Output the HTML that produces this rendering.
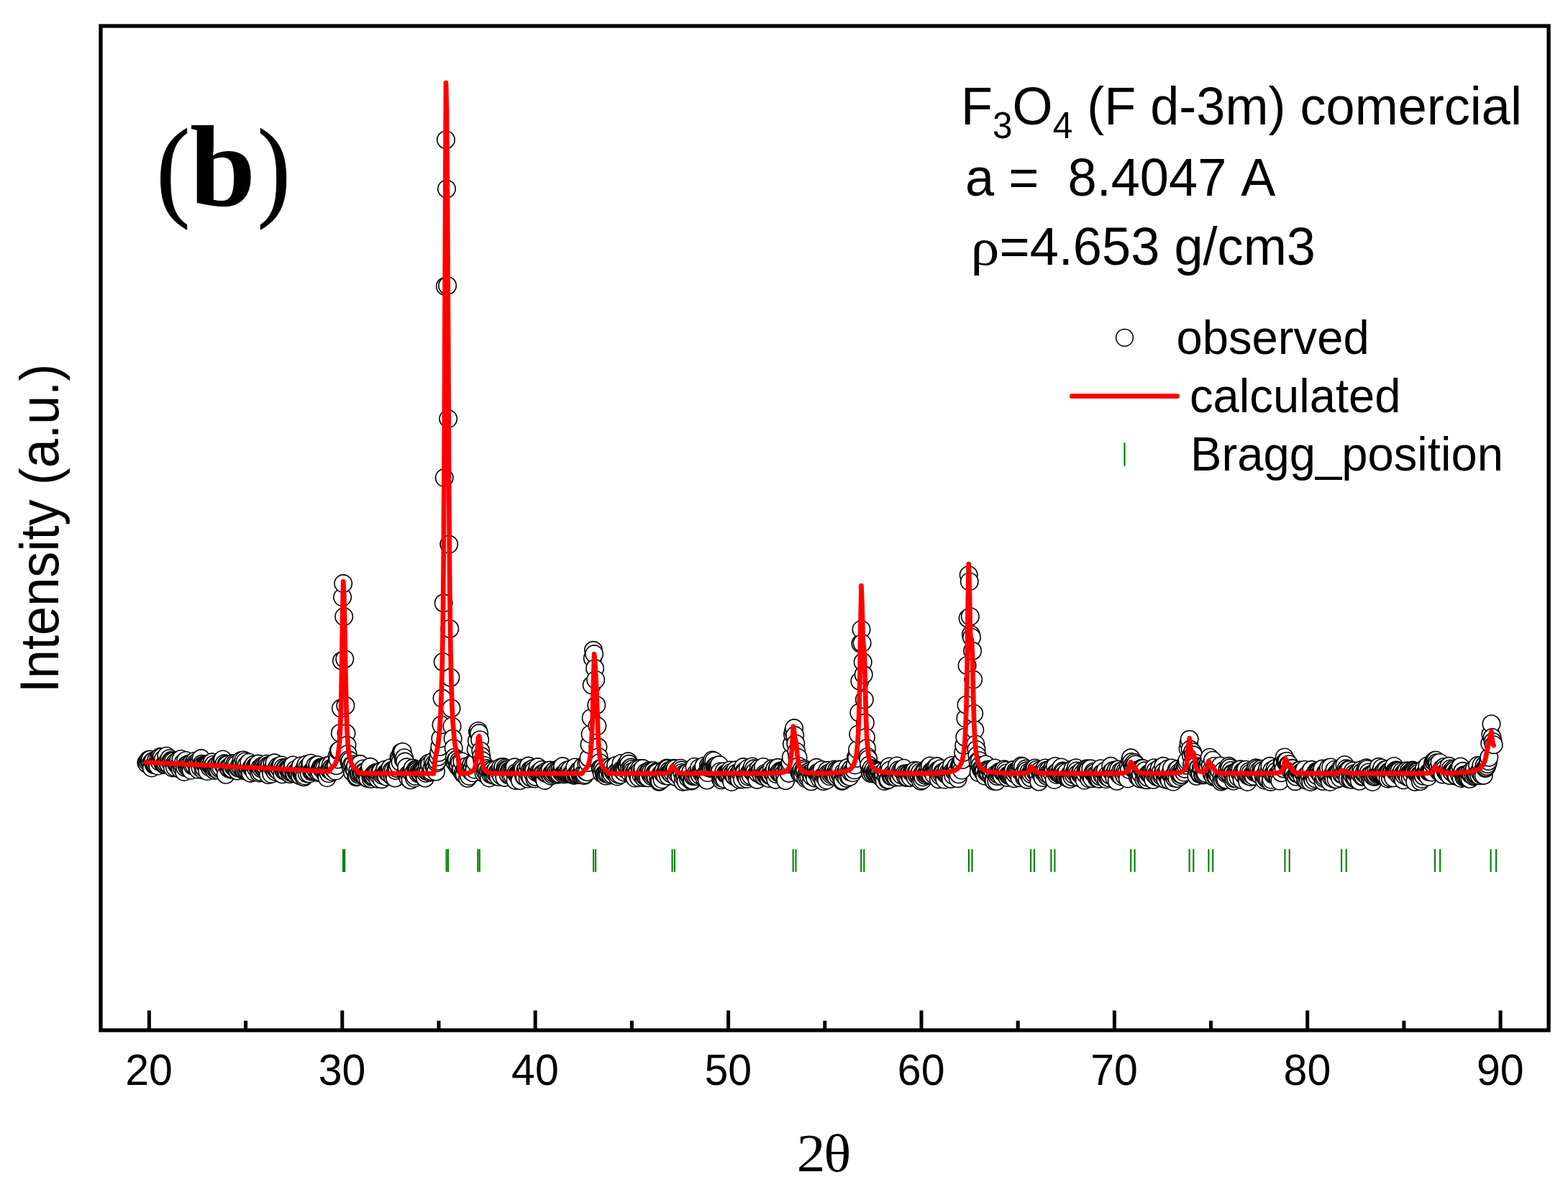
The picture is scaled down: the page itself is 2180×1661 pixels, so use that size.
<!DOCTYPE html>
<html lang="en"><head><meta charset="utf-8"><title>XRD Rietveld refinement (b)</title>
<style>
html,body{margin:0;padding:0;background:#fff;overflow:hidden;}
svg{display:block;}
text{font-family:"Liberation Sans",sans-serif;fill:#000;font-kerning:none;}
.serif{font-family:"Liberation Serif",serif;}
</style></head>
<body>
<svg width="2180" height="1661" viewBox="0 0 2180 1661">
<rect width="2180" height="1661" fill="#fff"/>
<g id="observed" fill="#fff" stroke="#000" stroke-width="1.6"><circle cx="203.4" cy="1060.3" r="12.2"/><circle cx="204.5" cy="1061.8" r="12.2"/><circle cx="205.6" cy="1059.0" r="12.2"/><circle cx="206.6" cy="1056.0" r="12.2"/><circle cx="207.7" cy="1058.2" r="12.2"/><circle cx="208.8" cy="1055.6" r="12.2"/><circle cx="209.9" cy="1060.9" r="12.2"/><circle cx="210.9" cy="1067.4" r="12.2"/><circle cx="212.0" cy="1058.3" r="12.2"/><circle cx="213.1" cy="1057.7" r="12.2"/><circle cx="214.2" cy="1063.3" r="12.2"/><circle cx="215.2" cy="1062.7" r="12.2"/><circle cx="216.3" cy="1061.5" r="12.2"/><circle cx="217.4" cy="1056.3" r="12.2"/><circle cx="218.5" cy="1060.9" r="12.2"/><circle cx="219.5" cy="1064.6" r="12.2"/><circle cx="220.6" cy="1054.4" r="12.2"/><circle cx="221.7" cy="1058.9" r="12.2"/><circle cx="222.7" cy="1051.7" r="12.2"/><circle cx="223.8" cy="1054.9" r="12.2"/><circle cx="224.9" cy="1052.1" r="12.2"/><circle cx="226.0" cy="1060.2" r="12.2"/><circle cx="227.0" cy="1055.1" r="12.2"/><circle cx="228.1" cy="1062.9" r="12.2"/><circle cx="229.2" cy="1062.4" r="12.2"/><circle cx="230.3" cy="1060.7" r="12.2"/><circle cx="231.3" cy="1050.7" r="12.2"/><circle cx="232.4" cy="1059.0" r="12.2"/><circle cx="233.5" cy="1061.5" r="12.2"/><circle cx="234.6" cy="1062.4" r="12.2"/><circle cx="235.6" cy="1054.2" r="12.2"/><circle cx="236.7" cy="1059.6" r="12.2"/><circle cx="237.8" cy="1057.1" r="12.2"/><circle cx="238.9" cy="1058.0" r="12.2"/><circle cx="239.9" cy="1067.4" r="12.2"/><circle cx="241.0" cy="1058.1" r="12.2"/><circle cx="242.1" cy="1062.1" r="12.2"/><circle cx="243.1" cy="1066.7" r="12.2"/><circle cx="244.2" cy="1059.4" r="12.2"/><circle cx="245.3" cy="1061.8" r="12.2"/><circle cx="246.4" cy="1063.0" r="12.2"/><circle cx="247.4" cy="1062.8" r="12.2"/><circle cx="248.5" cy="1056.4" r="12.2"/><circle cx="249.6" cy="1063.0" r="12.2"/><circle cx="250.7" cy="1069.4" r="12.2"/><circle cx="251.7" cy="1055.0" r="12.2"/><circle cx="252.8" cy="1067.1" r="12.2"/><circle cx="253.9" cy="1063.4" r="12.2"/><circle cx="255.0" cy="1059.7" r="12.2"/><circle cx="256.0" cy="1072.9" r="12.2"/><circle cx="257.1" cy="1066.8" r="12.2"/><circle cx="258.2" cy="1057.0" r="12.2"/><circle cx="259.2" cy="1063.4" r="12.2"/><circle cx="260.3" cy="1066.0" r="12.2"/><circle cx="261.4" cy="1062.2" r="12.2"/><circle cx="262.5" cy="1066.7" r="12.2"/><circle cx="263.5" cy="1063.0" r="12.2"/><circle cx="264.6" cy="1066.7" r="12.2"/><circle cx="265.7" cy="1070.6" r="12.2"/><circle cx="266.8" cy="1060.1" r="12.2"/><circle cx="267.8" cy="1064.5" r="12.2"/><circle cx="268.9" cy="1061.2" r="12.2"/><circle cx="270.0" cy="1064.2" r="12.2"/><circle cx="271.1" cy="1057.7" r="12.2"/><circle cx="272.1" cy="1060.8" r="12.2"/><circle cx="273.2" cy="1062.8" r="12.2"/><circle cx="274.3" cy="1068.3" r="12.2"/><circle cx="275.4" cy="1069.6" r="12.2"/><circle cx="276.4" cy="1057.3" r="12.2"/><circle cx="277.5" cy="1060.0" r="12.2"/><circle cx="278.6" cy="1067.3" r="12.2"/><circle cx="279.6" cy="1054.1" r="12.2"/><circle cx="280.7" cy="1061.8" r="12.2"/><circle cx="281.8" cy="1063.7" r="12.2"/><circle cx="282.9" cy="1070.5" r="12.2"/><circle cx="283.9" cy="1067.8" r="12.2"/><circle cx="285.0" cy="1062.7" r="12.2"/><circle cx="286.1" cy="1062.6" r="12.2"/><circle cx="287.2" cy="1063.2" r="12.2"/><circle cx="288.2" cy="1072.1" r="12.2"/><circle cx="289.3" cy="1062.4" r="12.2"/><circle cx="290.4" cy="1063.1" r="12.2"/><circle cx="291.5" cy="1066.4" r="12.2"/><circle cx="292.5" cy="1064.1" r="12.2"/><circle cx="293.6" cy="1063.8" r="12.2"/><circle cx="294.7" cy="1059.3" r="12.2"/><circle cx="295.7" cy="1064.8" r="12.2"/><circle cx="296.8" cy="1062.7" r="12.2"/><circle cx="297.9" cy="1070.8" r="12.2"/><circle cx="299.0" cy="1068.3" r="12.2"/><circle cx="300.0" cy="1065.0" r="12.2"/><circle cx="301.1" cy="1068.5" r="12.2"/><circle cx="302.2" cy="1063.5" r="12.2"/><circle cx="303.3" cy="1070.5" r="12.2"/><circle cx="304.3" cy="1065.3" r="12.2"/><circle cx="305.4" cy="1068.3" r="12.2"/><circle cx="306.5" cy="1059.0" r="12.2"/><circle cx="307.6" cy="1067.2" r="12.2"/><circle cx="308.6" cy="1057.1" r="12.2"/><circle cx="309.7" cy="1055.4" r="12.2"/><circle cx="310.8" cy="1064.1" r="12.2"/><circle cx="311.8" cy="1061.2" r="12.2"/><circle cx="312.9" cy="1066.6" r="12.2"/><circle cx="314.0" cy="1076.8" r="12.2"/><circle cx="315.1" cy="1061.7" r="12.2"/><circle cx="316.1" cy="1062.8" r="12.2"/><circle cx="317.2" cy="1067.0" r="12.2"/><circle cx="318.3" cy="1068.5" r="12.2"/><circle cx="319.4" cy="1065.2" r="12.2"/><circle cx="320.4" cy="1065.1" r="12.2"/><circle cx="321.5" cy="1069.7" r="12.2"/><circle cx="322.6" cy="1068.8" r="12.2"/><circle cx="323.7" cy="1061.1" r="12.2"/><circle cx="324.7" cy="1065.9" r="12.2"/><circle cx="325.8" cy="1066.6" r="12.2"/><circle cx="326.9" cy="1061.2" r="12.2"/><circle cx="328.0" cy="1067.8" r="12.2"/><circle cx="329.0" cy="1062.3" r="12.2"/><circle cx="330.1" cy="1071.5" r="12.2"/><circle cx="331.2" cy="1067.6" r="12.2"/><circle cx="332.2" cy="1067.2" r="12.2"/><circle cx="333.3" cy="1063.8" r="12.2"/><circle cx="334.4" cy="1066.2" r="12.2"/><circle cx="335.5" cy="1056.9" r="12.2"/><circle cx="336.5" cy="1061.3" r="12.2"/><circle cx="337.6" cy="1068.8" r="12.2"/><circle cx="338.7" cy="1056.4" r="12.2"/><circle cx="339.8" cy="1071.3" r="12.2"/><circle cx="340.8" cy="1058.4" r="12.2"/><circle cx="341.9" cy="1071.0" r="12.2"/><circle cx="343.0" cy="1063.0" r="12.2"/><circle cx="344.1" cy="1071.2" r="12.2"/><circle cx="345.1" cy="1068.0" r="12.2"/><circle cx="346.2" cy="1059.7" r="12.2"/><circle cx="347.3" cy="1073.7" r="12.2"/><circle cx="348.3" cy="1074.7" r="12.2"/><circle cx="349.4" cy="1067.2" r="12.2"/><circle cx="350.5" cy="1066.2" r="12.2"/><circle cx="351.6" cy="1066.9" r="12.2"/><circle cx="352.6" cy="1062.8" r="12.2"/><circle cx="353.7" cy="1073.3" r="12.2"/><circle cx="354.8" cy="1065.1" r="12.2"/><circle cx="355.9" cy="1067.6" r="12.2"/><circle cx="356.9" cy="1064.0" r="12.2"/><circle cx="358.0" cy="1064.8" r="12.2"/><circle cx="359.1" cy="1061.6" r="12.2"/><circle cx="360.2" cy="1074.4" r="12.2"/><circle cx="361.2" cy="1067.4" r="12.2"/><circle cx="362.3" cy="1073.0" r="12.2"/><circle cx="363.4" cy="1068.3" r="12.2"/><circle cx="364.5" cy="1064.8" r="12.2"/><circle cx="365.5" cy="1066.7" r="12.2"/><circle cx="366.6" cy="1065.6" r="12.2"/><circle cx="367.7" cy="1068.5" r="12.2"/><circle cx="368.7" cy="1066.6" r="12.2"/><circle cx="369.8" cy="1067.0" r="12.2"/><circle cx="370.9" cy="1061.7" r="12.2"/><circle cx="372.0" cy="1064.6" r="12.2"/><circle cx="373.0" cy="1077.0" r="12.2"/><circle cx="374.1" cy="1065.4" r="12.2"/><circle cx="375.2" cy="1063.5" r="12.2"/><circle cx="376.3" cy="1070.5" r="12.2"/><circle cx="377.3" cy="1075.9" r="12.2"/><circle cx="378.4" cy="1061.7" r="12.2"/><circle cx="379.5" cy="1068.0" r="12.2"/><circle cx="380.6" cy="1065.9" r="12.2"/><circle cx="381.6" cy="1060.3" r="12.2"/><circle cx="382.7" cy="1072.8" r="12.2"/><circle cx="383.8" cy="1069.1" r="12.2"/><circle cx="384.8" cy="1069.6" r="12.2"/><circle cx="385.9" cy="1065.6" r="12.2"/><circle cx="387.0" cy="1071.6" r="12.2"/><circle cx="388.1" cy="1066.7" r="12.2"/><circle cx="389.1" cy="1068.7" r="12.2"/><circle cx="390.2" cy="1064.0" r="12.2"/><circle cx="391.3" cy="1063.5" r="12.2"/><circle cx="392.4" cy="1076.3" r="12.2"/><circle cx="393.4" cy="1067.1" r="12.2"/><circle cx="394.5" cy="1071.2" r="12.2"/><circle cx="395.6" cy="1069.6" r="12.2"/><circle cx="396.7" cy="1067.6" r="12.2"/><circle cx="397.7" cy="1067.3" r="12.2"/><circle cx="398.8" cy="1073.1" r="12.2"/><circle cx="399.9" cy="1068.5" r="12.2"/><circle cx="401.0" cy="1069.3" r="12.2"/><circle cx="402.0" cy="1070.2" r="12.2"/><circle cx="403.1" cy="1076.0" r="12.2"/><circle cx="404.2" cy="1073.6" r="12.2"/><circle cx="405.2" cy="1072.1" r="12.2"/><circle cx="406.3" cy="1067.4" r="12.2"/><circle cx="407.4" cy="1063.4" r="12.2"/><circle cx="408.5" cy="1075.1" r="12.2"/><circle cx="409.5" cy="1075.2" r="12.2"/><circle cx="410.6" cy="1069.7" r="12.2"/><circle cx="411.7" cy="1073.2" r="12.2"/><circle cx="412.8" cy="1074.4" r="12.2"/><circle cx="413.8" cy="1074.7" r="12.2"/><circle cx="414.9" cy="1075.2" r="12.2"/><circle cx="416.0" cy="1068.4" r="12.2"/><circle cx="417.1" cy="1078.3" r="12.2"/><circle cx="418.1" cy="1064.5" r="12.2"/><circle cx="419.2" cy="1075.1" r="12.2"/><circle cx="420.3" cy="1073.3" r="12.2"/><circle cx="421.3" cy="1075.2" r="12.2"/><circle cx="422.4" cy="1080.3" r="12.2"/><circle cx="423.5" cy="1078.4" r="12.2"/><circle cx="424.6" cy="1065.3" r="12.2"/><circle cx="425.6" cy="1062.6" r="12.2"/><circle cx="426.7" cy="1075.2" r="12.2"/><circle cx="427.8" cy="1066.0" r="12.2"/><circle cx="428.9" cy="1071.1" r="12.2"/><circle cx="429.9" cy="1075.4" r="12.2"/><circle cx="431.0" cy="1063.0" r="12.2"/><circle cx="432.1" cy="1060.7" r="12.2"/><circle cx="433.2" cy="1072.6" r="12.2"/><circle cx="434.2" cy="1071.5" r="12.2"/><circle cx="435.3" cy="1070.1" r="12.2"/><circle cx="436.4" cy="1071.5" r="12.2"/><circle cx="437.5" cy="1067.1" r="12.2"/><circle cx="438.5" cy="1063.8" r="12.2"/><circle cx="439.6" cy="1070.6" r="12.2"/><circle cx="440.7" cy="1066.6" r="12.2"/><circle cx="441.7" cy="1063.2" r="12.2"/><circle cx="442.8" cy="1074.0" r="12.2"/><circle cx="443.9" cy="1071.1" r="12.2"/><circle cx="445.0" cy="1073.5" r="12.2"/><circle cx="446.0" cy="1066.5" r="12.2"/><circle cx="447.1" cy="1068.1" r="12.2"/><circle cx="448.2" cy="1066.4" r="12.2"/><circle cx="449.3" cy="1066.9" r="12.2"/><circle cx="450.3" cy="1072.3" r="12.2"/><circle cx="451.4" cy="1067.3" r="12.2"/><circle cx="452.5" cy="1072.9" r="12.2"/><circle cx="453.6" cy="1072.8" r="12.2"/><circle cx="454.6" cy="1081.1" r="12.2"/><circle cx="455.7" cy="1063.9" r="12.2"/><circle cx="456.8" cy="1075.1" r="12.2"/><circle cx="457.8" cy="1070.0" r="12.2"/><circle cx="458.9" cy="1070.2" r="12.2"/><circle cx="460.0" cy="1062.7" r="12.2"/><circle cx="461.1" cy="1067.3" r="12.2"/><circle cx="462.1" cy="1072.9" r="12.2"/><circle cx="463.2" cy="1068.2" r="12.2"/><circle cx="464.3" cy="1068.3" r="12.2"/><circle cx="465.4" cy="1065.5" r="12.2"/><circle cx="466.4" cy="1071.6" r="12.2"/><circle cx="467.5" cy="1064.2" r="12.2"/><circle cx="468.6" cy="1051.2" r="12.2"/><circle cx="469.7" cy="1055.5" r="12.2"/><circle cx="470.7" cy="1043.8" r="12.2"/><circle cx="471.8" cy="1043.0" r="12.2"/><circle cx="472.9" cy="1018.9" r="12.2"/><circle cx="474.0" cy="984.6" r="12.2"/><circle cx="475.0" cy="918.5" r="12.2"/><circle cx="476.1" cy="830.1" r="12.2"/><circle cx="477.2" cy="811.1" r="12.2"/><circle cx="478.2" cy="857.1" r="12.2"/><circle cx="479.3" cy="916.0" r="12.2"/><circle cx="480.4" cy="980.8" r="12.2"/><circle cx="481.5" cy="1019.2" r="12.2"/><circle cx="482.5" cy="1035.8" r="12.2"/><circle cx="483.6" cy="1048.0" r="12.2"/><circle cx="484.7" cy="1056.0" r="12.2"/><circle cx="485.8" cy="1059.7" r="12.2"/><circle cx="486.8" cy="1057.2" r="12.2"/><circle cx="487.9" cy="1067.4" r="12.2"/><circle cx="489.0" cy="1063.2" r="12.2"/><circle cx="490.1" cy="1073.4" r="12.2"/><circle cx="491.1" cy="1062.6" r="12.2"/><circle cx="492.2" cy="1069.1" r="12.2"/><circle cx="493.3" cy="1070.5" r="12.2"/><circle cx="494.3" cy="1064.5" r="12.2"/><circle cx="495.4" cy="1080.2" r="12.2"/><circle cx="496.5" cy="1079.3" r="12.2"/><circle cx="497.6" cy="1070.0" r="12.2"/><circle cx="498.6" cy="1076.5" r="12.2"/><circle cx="499.7" cy="1074.8" r="12.2"/><circle cx="500.8" cy="1062.1" r="12.2"/><circle cx="501.9" cy="1074.6" r="12.2"/><circle cx="502.9" cy="1073.2" r="12.2"/><circle cx="504.0" cy="1074.1" r="12.2"/><circle cx="505.1" cy="1068.5" r="12.2"/><circle cx="506.2" cy="1072.7" r="12.2"/><circle cx="507.2" cy="1073.3" r="12.2"/><circle cx="508.3" cy="1080.2" r="12.2"/><circle cx="509.4" cy="1076.1" r="12.2"/><circle cx="510.5" cy="1074.5" r="12.2"/><circle cx="511.5" cy="1082.3" r="12.2"/><circle cx="512.6" cy="1072.0" r="12.2"/><circle cx="513.7" cy="1072.9" r="12.2"/><circle cx="514.7" cy="1065.8" r="12.2"/><circle cx="515.8" cy="1082.8" r="12.2"/><circle cx="516.9" cy="1079.8" r="12.2"/><circle cx="518.0" cy="1079.6" r="12.2"/><circle cx="519.0" cy="1078.4" r="12.2"/><circle cx="520.1" cy="1075.6" r="12.2"/><circle cx="521.2" cy="1076.2" r="12.2"/><circle cx="522.3" cy="1073.9" r="12.2"/><circle cx="523.3" cy="1074.1" r="12.2"/><circle cx="524.4" cy="1075.4" r="12.2"/><circle cx="525.5" cy="1082.7" r="12.2"/><circle cx="526.6" cy="1077.9" r="12.2"/><circle cx="527.6" cy="1074.9" r="12.2"/><circle cx="528.7" cy="1072.3" r="12.2"/><circle cx="529.8" cy="1072.0" r="12.2"/><circle cx="530.8" cy="1083.2" r="12.2"/><circle cx="531.9" cy="1077.7" r="12.2"/><circle cx="533.0" cy="1075.5" r="12.2"/><circle cx="534.1" cy="1073.5" r="12.2"/><circle cx="535.1" cy="1069.7" r="12.2"/><circle cx="536.2" cy="1074.9" r="12.2"/><circle cx="537.3" cy="1079.6" r="12.2"/><circle cx="538.4" cy="1073.2" r="12.2"/><circle cx="539.4" cy="1074.1" r="12.2"/><circle cx="540.5" cy="1074.1" r="12.2"/><circle cx="541.6" cy="1075.7" r="12.2"/><circle cx="542.7" cy="1067.2" r="12.2"/><circle cx="543.7" cy="1074.0" r="12.2"/><circle cx="544.8" cy="1070.9" r="12.2"/><circle cx="545.9" cy="1079.5" r="12.2"/><circle cx="547.0" cy="1071.0" r="12.2"/><circle cx="548.0" cy="1077.4" r="12.2"/><circle cx="549.1" cy="1081.5" r="12.2"/><circle cx="550.2" cy="1071.0" r="12.2"/><circle cx="551.2" cy="1067.4" r="12.2"/><circle cx="552.3" cy="1068.2" r="12.2"/><circle cx="553.4" cy="1062.9" r="12.2"/><circle cx="554.5" cy="1053.0" r="12.2"/><circle cx="555.5" cy="1055.4" r="12.2"/><circle cx="556.6" cy="1059.2" r="12.2"/><circle cx="557.7" cy="1045.8" r="12.2"/><circle cx="558.8" cy="1046.5" r="12.2"/><circle cx="559.8" cy="1044.9" r="12.2"/><circle cx="560.9" cy="1056.0" r="12.2"/><circle cx="562.0" cy="1053.2" r="12.2"/><circle cx="563.1" cy="1058.6" r="12.2"/><circle cx="564.1" cy="1074.4" r="12.2"/><circle cx="565.2" cy="1066.3" r="12.2"/><circle cx="566.3" cy="1078.0" r="12.2"/><circle cx="567.3" cy="1081.3" r="12.2"/><circle cx="568.4" cy="1075.5" r="12.2"/><circle cx="569.5" cy="1077.2" r="12.2"/><circle cx="570.6" cy="1084.2" r="12.2"/><circle cx="571.6" cy="1073.4" r="12.2"/><circle cx="572.7" cy="1071.4" r="12.2"/><circle cx="573.8" cy="1067.6" r="12.2"/><circle cx="574.9" cy="1074.5" r="12.2"/><circle cx="575.9" cy="1081.6" r="12.2"/><circle cx="577.0" cy="1078.9" r="12.2"/><circle cx="578.1" cy="1069.3" r="12.2"/><circle cx="579.2" cy="1069.7" r="12.2"/><circle cx="580.2" cy="1071.3" r="12.2"/><circle cx="581.3" cy="1075.2" r="12.2"/><circle cx="582.4" cy="1072.6" r="12.2"/><circle cx="583.5" cy="1074.5" r="12.2"/><circle cx="584.5" cy="1074.8" r="12.2"/><circle cx="585.6" cy="1071.7" r="12.2"/><circle cx="586.7" cy="1072.8" r="12.2"/><circle cx="587.7" cy="1073.9" r="12.2"/><circle cx="588.8" cy="1072.2" r="12.2"/><circle cx="589.9" cy="1074.9" r="12.2"/><circle cx="591.0" cy="1081.5" r="12.2"/><circle cx="592.0" cy="1074.8" r="12.2"/><circle cx="593.1" cy="1071.9" r="12.2"/><circle cx="594.2" cy="1062.8" r="12.2"/><circle cx="595.3" cy="1072.8" r="12.2"/><circle cx="596.3" cy="1060.7" r="12.2"/><circle cx="597.4" cy="1062.9" r="12.2"/><circle cx="598.5" cy="1073.6" r="12.2"/><circle cx="599.6" cy="1072.2" r="12.2"/><circle cx="600.6" cy="1067.2" r="12.2"/><circle cx="601.7" cy="1058.5" r="12.2"/><circle cx="602.8" cy="1064.2" r="12.2"/><circle cx="603.8" cy="1061.4" r="12.2"/><circle cx="604.9" cy="1066.5" r="12.2"/><circle cx="606.0" cy="1072.5" r="12.2"/><circle cx="607.1" cy="1060.4" r="12.2"/><circle cx="608.1" cy="1058.0" r="12.2"/><circle cx="609.2" cy="1052.0" r="12.2"/><circle cx="610.3" cy="1046.0" r="12.2"/><circle cx="611.4" cy="1038.0" r="12.2"/><circle cx="612.4" cy="1026.5" r="12.2"/><circle cx="613.5" cy="1007.6" r="12.2"/><circle cx="614.6" cy="970.6" r="12.2"/><circle cx="615.7" cy="920.0" r="12.2"/><circle cx="616.7" cy="838.3" r="12.2"/><circle cx="617.8" cy="664.1" r="12.2"/><circle cx="618.9" cy="398.0" r="12.2"/><circle cx="620.0" cy="194.2" r="12.2"/><circle cx="621.0" cy="262.6" r="12.2"/><circle cx="622.1" cy="397.0" r="12.2"/><circle cx="623.2" cy="582.1" r="12.2"/><circle cx="624.2" cy="756.6" r="12.2"/><circle cx="625.3" cy="874.0" r="12.2"/><circle cx="626.4" cy="941.7" r="12.2"/><circle cx="627.5" cy="984.5" r="12.2"/><circle cx="628.5" cy="1009.4" r="12.2"/><circle cx="629.6" cy="1026.5" r="12.2"/><circle cx="630.7" cy="1040.0" r="12.2"/><circle cx="631.8" cy="1052.7" r="12.2"/><circle cx="632.8" cy="1060.0" r="12.2"/><circle cx="633.9" cy="1056.2" r="12.2"/><circle cx="635.0" cy="1055.6" r="12.2"/><circle cx="636.1" cy="1065.1" r="12.2"/><circle cx="637.1" cy="1063.0" r="12.2"/><circle cx="638.2" cy="1057.6" r="12.2"/><circle cx="639.3" cy="1060.3" r="12.2"/><circle cx="640.3" cy="1070.1" r="12.2"/><circle cx="641.4" cy="1069.4" r="12.2"/><circle cx="642.5" cy="1058.4" r="12.2"/><circle cx="643.6" cy="1075.3" r="12.2"/><circle cx="644.6" cy="1072.1" r="12.2"/><circle cx="645.7" cy="1076.3" r="12.2"/><circle cx="646.8" cy="1068.1" r="12.2"/><circle cx="647.9" cy="1068.8" r="12.2"/><circle cx="648.9" cy="1064.9" r="12.2"/><circle cx="650.0" cy="1081.8" r="12.2"/><circle cx="651.1" cy="1070.0" r="12.2"/><circle cx="652.2" cy="1078.9" r="12.2"/><circle cx="653.2" cy="1067.7" r="12.2"/><circle cx="654.3" cy="1071.7" r="12.2"/><circle cx="655.4" cy="1062.3" r="12.2"/><circle cx="656.4" cy="1068.3" r="12.2"/><circle cx="657.5" cy="1074.3" r="12.2"/><circle cx="658.6" cy="1061.5" r="12.2"/><circle cx="659.7" cy="1069.6" r="12.2"/><circle cx="660.7" cy="1059.3" r="12.2"/><circle cx="661.8" cy="1041.5" r="12.2"/><circle cx="662.9" cy="1029.7" r="12.2"/><circle cx="664.0" cy="1017.2" r="12.2"/><circle cx="665.0" cy="1015.9" r="12.2"/><circle cx="666.1" cy="1019.1" r="12.2"/><circle cx="667.2" cy="1028.2" r="12.2"/><circle cx="668.3" cy="1043.7" r="12.2"/><circle cx="669.3" cy="1051.1" r="12.2"/><circle cx="670.4" cy="1057.1" r="12.2"/><circle cx="671.5" cy="1067.7" r="12.2"/><circle cx="672.6" cy="1074.7" r="12.2"/><circle cx="673.6" cy="1063.9" r="12.2"/><circle cx="674.7" cy="1072.3" r="12.2"/><circle cx="675.8" cy="1069.5" r="12.2"/><circle cx="676.8" cy="1068.3" r="12.2"/><circle cx="677.9" cy="1077.7" r="12.2"/><circle cx="679.0" cy="1071.1" r="12.2"/><circle cx="680.1" cy="1081.4" r="12.2"/><circle cx="681.1" cy="1070.2" r="12.2"/><circle cx="682.2" cy="1076.2" r="12.2"/><circle cx="683.3" cy="1073.2" r="12.2"/><circle cx="684.4" cy="1070.7" r="12.2"/><circle cx="685.4" cy="1077.5" r="12.2"/><circle cx="686.5" cy="1073.8" r="12.2"/><circle cx="687.6" cy="1077.7" r="12.2"/><circle cx="688.7" cy="1074.5" r="12.2"/><circle cx="689.7" cy="1069.4" r="12.2"/><circle cx="690.8" cy="1074.4" r="12.2"/><circle cx="691.9" cy="1075.2" r="12.2"/><circle cx="692.9" cy="1079.8" r="12.2"/><circle cx="694.0" cy="1070.5" r="12.2"/><circle cx="695.1" cy="1074.8" r="12.2"/><circle cx="696.2" cy="1066.5" r="12.2"/><circle cx="697.2" cy="1078.4" r="12.2"/><circle cx="698.3" cy="1069.7" r="12.2"/><circle cx="699.4" cy="1066.1" r="12.2"/><circle cx="700.5" cy="1074.9" r="12.2"/><circle cx="701.5" cy="1080.7" r="12.2"/><circle cx="702.6" cy="1067.6" r="12.2"/><circle cx="703.7" cy="1069.8" r="12.2"/><circle cx="704.8" cy="1071.6" r="12.2"/><circle cx="705.8" cy="1069.7" r="12.2"/><circle cx="706.9" cy="1077.2" r="12.2"/><circle cx="708.0" cy="1071.3" r="12.2"/><circle cx="709.1" cy="1071.7" r="12.2"/><circle cx="710.1" cy="1078.3" r="12.2"/><circle cx="711.2" cy="1071.6" r="12.2"/><circle cx="712.3" cy="1077.6" r="12.2"/><circle cx="713.3" cy="1070.6" r="12.2"/><circle cx="714.4" cy="1069.4" r="12.2"/><circle cx="715.5" cy="1066.3" r="12.2"/><circle cx="716.6" cy="1084.8" r="12.2"/><circle cx="717.6" cy="1073.9" r="12.2"/><circle cx="718.7" cy="1076.7" r="12.2"/><circle cx="719.8" cy="1075.3" r="12.2"/><circle cx="720.9" cy="1076.3" r="12.2"/><circle cx="721.9" cy="1075.7" r="12.2"/><circle cx="723.0" cy="1085.0" r="12.2"/><circle cx="724.1" cy="1070.3" r="12.2"/><circle cx="725.2" cy="1067.7" r="12.2"/><circle cx="726.2" cy="1070.5" r="12.2"/><circle cx="727.3" cy="1068.9" r="12.2"/><circle cx="728.4" cy="1079.3" r="12.2"/><circle cx="729.4" cy="1079.6" r="12.2"/><circle cx="730.5" cy="1070.7" r="12.2"/><circle cx="731.6" cy="1068.6" r="12.2"/><circle cx="732.7" cy="1073.8" r="12.2"/><circle cx="733.7" cy="1082.5" r="12.2"/><circle cx="734.8" cy="1064.6" r="12.2"/><circle cx="735.9" cy="1078.2" r="12.2"/><circle cx="737.0" cy="1070.2" r="12.2"/><circle cx="738.0" cy="1080.8" r="12.2"/><circle cx="739.1" cy="1070.2" r="12.2"/><circle cx="740.2" cy="1074.2" r="12.2"/><circle cx="741.3" cy="1068.1" r="12.2"/><circle cx="742.3" cy="1070.7" r="12.2"/><circle cx="743.4" cy="1082.5" r="12.2"/><circle cx="744.5" cy="1079.7" r="12.2"/><circle cx="745.6" cy="1073.6" r="12.2"/><circle cx="746.6" cy="1071.3" r="12.2"/><circle cx="747.7" cy="1066.1" r="12.2"/><circle cx="748.8" cy="1073.6" r="12.2"/><circle cx="749.8" cy="1075.5" r="12.2"/><circle cx="750.9" cy="1075.2" r="12.2"/><circle cx="752.0" cy="1075.1" r="12.2"/><circle cx="753.1" cy="1070.0" r="12.2"/><circle cx="754.1" cy="1075.3" r="12.2"/><circle cx="755.2" cy="1075.4" r="12.2"/><circle cx="756.3" cy="1082.1" r="12.2"/><circle cx="757.4" cy="1084.9" r="12.2"/><circle cx="758.4" cy="1074.9" r="12.2"/><circle cx="759.5" cy="1071.8" r="12.2"/><circle cx="760.6" cy="1075.3" r="12.2"/><circle cx="761.7" cy="1072.6" r="12.2"/><circle cx="762.7" cy="1071.9" r="12.2"/><circle cx="763.8" cy="1075.3" r="12.2"/><circle cx="764.9" cy="1070.4" r="12.2"/><circle cx="765.9" cy="1078.6" r="12.2"/><circle cx="767.0" cy="1075.1" r="12.2"/><circle cx="768.1" cy="1076.8" r="12.2"/><circle cx="769.2" cy="1074.7" r="12.2"/><circle cx="770.2" cy="1071.9" r="12.2"/><circle cx="771.3" cy="1070.8" r="12.2"/><circle cx="772.4" cy="1074.4" r="12.2"/><circle cx="773.5" cy="1072.8" r="12.2"/><circle cx="774.5" cy="1076.7" r="12.2"/><circle cx="775.6" cy="1075.5" r="12.2"/><circle cx="776.7" cy="1068.7" r="12.2"/><circle cx="777.8" cy="1075.8" r="12.2"/><circle cx="778.8" cy="1068.8" r="12.2"/><circle cx="779.9" cy="1072.4" r="12.2"/><circle cx="781.0" cy="1074.0" r="12.2"/><circle cx="782.1" cy="1065.1" r="12.2"/><circle cx="783.1" cy="1075.9" r="12.2"/><circle cx="784.2" cy="1076.2" r="12.2"/><circle cx="785.3" cy="1074.6" r="12.2"/><circle cx="786.3" cy="1073.3" r="12.2"/><circle cx="787.4" cy="1073.5" r="12.2"/><circle cx="788.5" cy="1070.4" r="12.2"/><circle cx="789.6" cy="1074.0" r="12.2"/><circle cx="790.6" cy="1072.5" r="12.2"/><circle cx="791.7" cy="1075.7" r="12.2"/><circle cx="792.8" cy="1069.2" r="12.2"/><circle cx="793.9" cy="1076.3" r="12.2"/><circle cx="794.9" cy="1075.8" r="12.2"/><circle cx="796.0" cy="1074.4" r="12.2"/><circle cx="797.1" cy="1072.8" r="12.2"/><circle cx="798.2" cy="1077.7" r="12.2"/><circle cx="799.2" cy="1066.5" r="12.2"/><circle cx="800.3" cy="1077.1" r="12.2"/><circle cx="801.4" cy="1075.9" r="12.2"/><circle cx="802.4" cy="1076.0" r="12.2"/><circle cx="803.5" cy="1076.4" r="12.2"/><circle cx="804.6" cy="1071.0" r="12.2"/><circle cx="805.7" cy="1072.8" r="12.2"/><circle cx="806.7" cy="1077.1" r="12.2"/><circle cx="807.8" cy="1075.9" r="12.2"/><circle cx="808.9" cy="1074.5" r="12.2"/><circle cx="810.0" cy="1065.5" r="12.2"/><circle cx="811.0" cy="1075.4" r="12.2"/><circle cx="812.1" cy="1078.1" r="12.2"/><circle cx="813.2" cy="1076.6" r="12.2"/><circle cx="814.3" cy="1072.0" r="12.2"/><circle cx="815.3" cy="1062.0" r="12.2"/><circle cx="816.4" cy="1073.0" r="12.2"/><circle cx="817.5" cy="1060.0" r="12.2"/><circle cx="818.6" cy="1053.5" r="12.2"/><circle cx="819.6" cy="1035.0" r="12.2"/><circle cx="820.7" cy="1020.4" r="12.2"/><circle cx="821.8" cy="997.9" r="12.2"/><circle cx="822.8" cy="952.2" r="12.2"/><circle cx="823.9" cy="915.0" r="12.2"/><circle cx="825.0" cy="903.8" r="12.2"/><circle cx="826.1" cy="909.1" r="12.2"/><circle cx="827.1" cy="929.0" r="12.2"/><circle cx="828.2" cy="944.9" r="12.2"/><circle cx="829.3" cy="980.0" r="12.2"/><circle cx="830.4" cy="1009.1" r="12.2"/><circle cx="831.4" cy="1038.3" r="12.2"/><circle cx="832.5" cy="1052.0" r="12.2"/><circle cx="833.6" cy="1060.0" r="12.2"/><circle cx="834.7" cy="1067.9" r="12.2"/><circle cx="835.7" cy="1068.8" r="12.2"/><circle cx="836.8" cy="1074.7" r="12.2"/><circle cx="837.9" cy="1066.9" r="12.2"/><circle cx="838.9" cy="1071.3" r="12.2"/><circle cx="840.0" cy="1075.9" r="12.2"/><circle cx="841.1" cy="1075.7" r="12.2"/><circle cx="842.2" cy="1078.5" r="12.2"/><circle cx="843.2" cy="1075.5" r="12.2"/><circle cx="844.3" cy="1072.2" r="12.2"/><circle cx="845.4" cy="1075.8" r="12.2"/><circle cx="846.5" cy="1069.2" r="12.2"/><circle cx="847.5" cy="1066.2" r="12.2"/><circle cx="848.6" cy="1077.4" r="12.2"/><circle cx="849.7" cy="1074.3" r="12.2"/><circle cx="850.8" cy="1076.3" r="12.2"/><circle cx="851.8" cy="1066.3" r="12.2"/><circle cx="852.9" cy="1073.1" r="12.2"/><circle cx="854.0" cy="1072.0" r="12.2"/><circle cx="855.1" cy="1070.7" r="12.2"/><circle cx="856.1" cy="1064.0" r="12.2"/><circle cx="857.2" cy="1073.3" r="12.2"/><circle cx="858.3" cy="1079.4" r="12.2"/><circle cx="859.3" cy="1076.6" r="12.2"/><circle cx="860.4" cy="1071.3" r="12.2"/><circle cx="861.5" cy="1073.7" r="12.2"/><circle cx="862.6" cy="1076.8" r="12.2"/><circle cx="863.6" cy="1060.9" r="12.2"/><circle cx="864.7" cy="1069.8" r="12.2"/><circle cx="865.8" cy="1071.5" r="12.2"/><circle cx="866.9" cy="1070.3" r="12.2"/><circle cx="867.9" cy="1073.5" r="12.2"/><circle cx="869.0" cy="1068.9" r="12.2"/><circle cx="870.1" cy="1063.3" r="12.2"/><circle cx="871.2" cy="1062.4" r="12.2"/><circle cx="872.2" cy="1064.5" r="12.2"/><circle cx="873.3" cy="1058.3" r="12.2"/><circle cx="874.4" cy="1061.8" r="12.2"/><circle cx="875.4" cy="1068.1" r="12.2"/><circle cx="876.5" cy="1075.2" r="12.2"/><circle cx="877.6" cy="1066.6" r="12.2"/><circle cx="878.7" cy="1069.0" r="12.2"/><circle cx="879.7" cy="1071.9" r="12.2"/><circle cx="880.8" cy="1079.0" r="12.2"/><circle cx="881.9" cy="1073.3" r="12.2"/><circle cx="883.0" cy="1081.6" r="12.2"/><circle cx="884.0" cy="1070.0" r="12.2"/><circle cx="885.1" cy="1074.3" r="12.2"/><circle cx="886.2" cy="1074.4" r="12.2"/><circle cx="887.3" cy="1079.5" r="12.2"/><circle cx="888.3" cy="1080.9" r="12.2"/><circle cx="889.4" cy="1068.1" r="12.2"/><circle cx="890.5" cy="1071.1" r="12.2"/><circle cx="891.6" cy="1077.4" r="12.2"/><circle cx="892.6" cy="1072.5" r="12.2"/><circle cx="893.7" cy="1068.1" r="12.2"/><circle cx="894.8" cy="1081.0" r="12.2"/><circle cx="895.8" cy="1078.2" r="12.2"/><circle cx="896.9" cy="1078.2" r="12.2"/><circle cx="898.0" cy="1073.4" r="12.2"/><circle cx="899.1" cy="1080.9" r="12.2"/><circle cx="900.1" cy="1074.6" r="12.2"/><circle cx="901.2" cy="1081.3" r="12.2"/><circle cx="902.3" cy="1071.2" r="12.2"/><circle cx="903.4" cy="1071.5" r="12.2"/><circle cx="904.4" cy="1076.8" r="12.2"/><circle cx="905.5" cy="1072.3" r="12.2"/><circle cx="906.6" cy="1079.2" r="12.2"/><circle cx="907.7" cy="1077.1" r="12.2"/><circle cx="908.7" cy="1071.2" r="12.2"/><circle cx="909.8" cy="1076.2" r="12.2"/><circle cx="910.9" cy="1074.0" r="12.2"/><circle cx="911.9" cy="1080.4" r="12.2"/><circle cx="913.0" cy="1072.6" r="12.2"/><circle cx="914.1" cy="1073.6" r="12.2"/><circle cx="915.2" cy="1081.8" r="12.2"/><circle cx="916.2" cy="1086.8" r="12.2"/><circle cx="917.3" cy="1085.8" r="12.2"/><circle cx="918.4" cy="1076.1" r="12.2"/><circle cx="919.5" cy="1076.9" r="12.2"/><circle cx="920.5" cy="1083.4" r="12.2"/><circle cx="921.6" cy="1075.1" r="12.2"/><circle cx="922.7" cy="1070.9" r="12.2"/><circle cx="923.8" cy="1076.3" r="12.2"/><circle cx="924.8" cy="1078.0" r="12.2"/><circle cx="925.9" cy="1071.5" r="12.2"/><circle cx="927.0" cy="1067.4" r="12.2"/><circle cx="928.1" cy="1068.4" r="12.2"/><circle cx="929.1" cy="1078.7" r="12.2"/><circle cx="930.2" cy="1071.3" r="12.2"/><circle cx="931.3" cy="1073.8" r="12.2"/><circle cx="932.3" cy="1074.7" r="12.2"/><circle cx="933.4" cy="1075.7" r="12.2"/><circle cx="934.5" cy="1070.2" r="12.2"/><circle cx="935.6" cy="1074.4" r="12.2"/><circle cx="936.6" cy="1067.8" r="12.2"/><circle cx="937.7" cy="1071.0" r="12.2"/><circle cx="938.8" cy="1068.4" r="12.2"/><circle cx="939.9" cy="1080.0" r="12.2"/><circle cx="940.9" cy="1074.8" r="12.2"/><circle cx="942.0" cy="1071.6" r="12.2"/><circle cx="943.1" cy="1073.7" r="12.2"/><circle cx="944.2" cy="1074.5" r="12.2"/><circle cx="945.2" cy="1079.2" r="12.2"/><circle cx="946.3" cy="1067.7" r="12.2"/><circle cx="947.4" cy="1070.6" r="12.2"/><circle cx="948.4" cy="1073.9" r="12.2"/><circle cx="949.5" cy="1086.8" r="12.2"/><circle cx="950.6" cy="1080.6" r="12.2"/><circle cx="951.7" cy="1075.3" r="12.2"/><circle cx="952.7" cy="1079.4" r="12.2"/><circle cx="953.8" cy="1086.1" r="12.2"/><circle cx="954.9" cy="1074.7" r="12.2"/><circle cx="956.0" cy="1074.0" r="12.2"/><circle cx="957.0" cy="1081.9" r="12.2"/><circle cx="958.1" cy="1078.3" r="12.2"/><circle cx="959.2" cy="1079.2" r="12.2"/><circle cx="960.3" cy="1073.3" r="12.2"/><circle cx="961.3" cy="1085.5" r="12.2"/><circle cx="962.4" cy="1084.4" r="12.2"/><circle cx="963.5" cy="1078.7" r="12.2"/><circle cx="964.5" cy="1079.3" r="12.2"/><circle cx="965.6" cy="1065.7" r="12.2"/><circle cx="966.7" cy="1079.1" r="12.2"/><circle cx="967.8" cy="1074.9" r="12.2"/><circle cx="968.8" cy="1078.0" r="12.2"/><circle cx="969.9" cy="1079.3" r="12.2"/><circle cx="971.0" cy="1074.2" r="12.2"/><circle cx="972.1" cy="1067.4" r="12.2"/><circle cx="973.1" cy="1077.7" r="12.2"/><circle cx="974.2" cy="1072.2" r="12.2"/><circle cx="975.3" cy="1074.2" r="12.2"/><circle cx="976.4" cy="1072.8" r="12.2"/><circle cx="977.4" cy="1074.1" r="12.2"/><circle cx="978.5" cy="1064.7" r="12.2"/><circle cx="979.6" cy="1081.7" r="12.2"/><circle cx="980.7" cy="1076.7" r="12.2"/><circle cx="981.7" cy="1080.6" r="12.2"/><circle cx="982.8" cy="1084.5" r="12.2"/><circle cx="983.9" cy="1074.1" r="12.2"/><circle cx="984.9" cy="1064.0" r="12.2"/><circle cx="986.0" cy="1067.5" r="12.2"/><circle cx="987.1" cy="1064.6" r="12.2"/><circle cx="988.2" cy="1066.7" r="12.2"/><circle cx="989.2" cy="1068.2" r="12.2"/><circle cx="990.3" cy="1056.5" r="12.2"/><circle cx="991.4" cy="1067.3" r="12.2"/><circle cx="992.5" cy="1057.4" r="12.2"/><circle cx="993.5" cy="1066.4" r="12.2"/><circle cx="994.6" cy="1064.8" r="12.2"/><circle cx="995.7" cy="1064.6" r="12.2"/><circle cx="996.8" cy="1067.0" r="12.2"/><circle cx="997.8" cy="1066.0" r="12.2"/><circle cx="998.9" cy="1067.1" r="12.2"/><circle cx="1000.0" cy="1063.1" r="12.2"/><circle cx="1001.0" cy="1072.5" r="12.2"/><circle cx="1002.1" cy="1082.9" r="12.2"/><circle cx="1003.2" cy="1084.3" r="12.2"/><circle cx="1004.3" cy="1081.6" r="12.2"/><circle cx="1005.3" cy="1078.8" r="12.2"/><circle cx="1006.4" cy="1072.2" r="12.2"/><circle cx="1007.5" cy="1082.9" r="12.2"/><circle cx="1008.6" cy="1075.5" r="12.2"/><circle cx="1009.6" cy="1075.5" r="12.2"/><circle cx="1010.7" cy="1074.4" r="12.2"/><circle cx="1011.8" cy="1076.3" r="12.2"/><circle cx="1012.9" cy="1073.7" r="12.2"/><circle cx="1013.9" cy="1075.5" r="12.2"/><circle cx="1015.0" cy="1070.5" r="12.2"/><circle cx="1016.1" cy="1074.0" r="12.2"/><circle cx="1017.2" cy="1086.9" r="12.2"/><circle cx="1018.2" cy="1075.5" r="12.2"/><circle cx="1019.3" cy="1074.7" r="12.2"/><circle cx="1020.4" cy="1078.5" r="12.2"/><circle cx="1021.4" cy="1079.4" r="12.2"/><circle cx="1022.5" cy="1070.3" r="12.2"/><circle cx="1023.6" cy="1074.8" r="12.2"/><circle cx="1024.7" cy="1080.5" r="12.2"/><circle cx="1025.7" cy="1077.2" r="12.2"/><circle cx="1026.8" cy="1076.5" r="12.2"/><circle cx="1027.9" cy="1083.6" r="12.2"/><circle cx="1029.0" cy="1072.5" r="12.2"/><circle cx="1030.0" cy="1076.3" r="12.2"/><circle cx="1031.1" cy="1073.3" r="12.2"/><circle cx="1032.2" cy="1083.3" r="12.2"/><circle cx="1033.3" cy="1066.1" r="12.2"/><circle cx="1034.3" cy="1072.5" r="12.2"/><circle cx="1035.4" cy="1073.2" r="12.2"/><circle cx="1036.5" cy="1079.2" r="12.2"/><circle cx="1037.5" cy="1078.9" r="12.2"/><circle cx="1038.6" cy="1082.8" r="12.2"/><circle cx="1039.7" cy="1068.0" r="12.2"/><circle cx="1040.8" cy="1079.6" r="12.2"/><circle cx="1041.8" cy="1074.4" r="12.2"/><circle cx="1042.9" cy="1072.5" r="12.2"/><circle cx="1044.0" cy="1078.5" r="12.2"/><circle cx="1045.1" cy="1071.2" r="12.2"/><circle cx="1046.1" cy="1065.4" r="12.2"/><circle cx="1047.2" cy="1074.0" r="12.2"/><circle cx="1048.3" cy="1068.3" r="12.2"/><circle cx="1049.4" cy="1072.6" r="12.2"/><circle cx="1050.4" cy="1077.7" r="12.2"/><circle cx="1051.5" cy="1077.4" r="12.2"/><circle cx="1052.6" cy="1083.7" r="12.2"/><circle cx="1053.7" cy="1074.8" r="12.2"/><circle cx="1054.7" cy="1068.1" r="12.2"/><circle cx="1055.8" cy="1072.0" r="12.2"/><circle cx="1056.9" cy="1071.2" r="12.2"/><circle cx="1057.9" cy="1069.7" r="12.2"/><circle cx="1059.0" cy="1078.0" r="12.2"/><circle cx="1060.1" cy="1072.5" r="12.2"/><circle cx="1061.2" cy="1065.9" r="12.2"/><circle cx="1062.2" cy="1079.2" r="12.2"/><circle cx="1063.3" cy="1075.2" r="12.2"/><circle cx="1064.4" cy="1077.5" r="12.2"/><circle cx="1065.5" cy="1076.3" r="12.2"/><circle cx="1066.5" cy="1078.9" r="12.2"/><circle cx="1067.6" cy="1075.9" r="12.2"/><circle cx="1068.7" cy="1081.9" r="12.2"/><circle cx="1069.8" cy="1077.8" r="12.2"/><circle cx="1070.8" cy="1077.6" r="12.2"/><circle cx="1071.9" cy="1077.7" r="12.2"/><circle cx="1073.0" cy="1068.3" r="12.2"/><circle cx="1074.0" cy="1074.8" r="12.2"/><circle cx="1075.1" cy="1074.3" r="12.2"/><circle cx="1076.2" cy="1076.6" r="12.2"/><circle cx="1077.3" cy="1068.7" r="12.2"/><circle cx="1078.3" cy="1083.7" r="12.2"/><circle cx="1079.4" cy="1076.0" r="12.2"/><circle cx="1080.5" cy="1069.4" r="12.2"/><circle cx="1081.6" cy="1066.8" r="12.2"/><circle cx="1082.6" cy="1073.9" r="12.2"/><circle cx="1083.7" cy="1074.8" r="12.2"/><circle cx="1084.8" cy="1071.6" r="12.2"/><circle cx="1085.9" cy="1075.6" r="12.2"/><circle cx="1086.9" cy="1071.8" r="12.2"/><circle cx="1088.0" cy="1077.6" r="12.2"/><circle cx="1089.1" cy="1071.1" r="12.2"/><circle cx="1090.2" cy="1074.4" r="12.2"/><circle cx="1091.2" cy="1079.2" r="12.2"/><circle cx="1092.3" cy="1085.0" r="12.2"/><circle cx="1093.4" cy="1068.6" r="12.2"/><circle cx="1094.4" cy="1070.7" r="12.2"/><circle cx="1095.5" cy="1068.0" r="12.2"/><circle cx="1096.6" cy="1074.7" r="12.2"/><circle cx="1097.7" cy="1062.2" r="12.2"/><circle cx="1098.7" cy="1059.9" r="12.2"/><circle cx="1099.8" cy="1052.6" r="12.2"/><circle cx="1100.9" cy="1034.3" r="12.2"/><circle cx="1102.0" cy="1020.4" r="12.2"/><circle cx="1103.0" cy="1016.5" r="12.2"/><circle cx="1104.1" cy="1012.1" r="12.2"/><circle cx="1105.2" cy="1022.1" r="12.2"/><circle cx="1106.3" cy="1033.5" r="12.2"/><circle cx="1107.3" cy="1044.7" r="12.2"/><circle cx="1108.4" cy="1052.7" r="12.2"/><circle cx="1109.5" cy="1052.9" r="12.2"/><circle cx="1110.5" cy="1064.9" r="12.2"/><circle cx="1111.6" cy="1074.4" r="12.2"/><circle cx="1112.7" cy="1074.9" r="12.2"/><circle cx="1113.8" cy="1072.6" r="12.2"/><circle cx="1114.8" cy="1069.2" r="12.2"/><circle cx="1115.9" cy="1077.2" r="12.2"/><circle cx="1117.0" cy="1071.4" r="12.2"/><circle cx="1118.1" cy="1068.7" r="12.2"/><circle cx="1119.1" cy="1070.7" r="12.2"/><circle cx="1120.2" cy="1082.1" r="12.2"/><circle cx="1121.3" cy="1076.0" r="12.2"/><circle cx="1122.4" cy="1080.8" r="12.2"/><circle cx="1123.4" cy="1072.7" r="12.2"/><circle cx="1124.5" cy="1079.9" r="12.2"/><circle cx="1125.6" cy="1072.2" r="12.2"/><circle cx="1126.7" cy="1074.5" r="12.2"/><circle cx="1127.7" cy="1086.3" r="12.2"/><circle cx="1128.8" cy="1079.2" r="12.2"/><circle cx="1129.9" cy="1072.9" r="12.2"/><circle cx="1130.9" cy="1075.0" r="12.2"/><circle cx="1132.0" cy="1077.1" r="12.2"/><circle cx="1133.1" cy="1081.5" r="12.2"/><circle cx="1134.2" cy="1073.0" r="12.2"/><circle cx="1135.2" cy="1066.8" r="12.2"/><circle cx="1136.3" cy="1074.1" r="12.2"/><circle cx="1137.4" cy="1075.6" r="12.2"/><circle cx="1138.5" cy="1076.0" r="12.2"/><circle cx="1139.5" cy="1082.1" r="12.2"/><circle cx="1140.6" cy="1077.1" r="12.2"/><circle cx="1141.7" cy="1079.6" r="12.2"/><circle cx="1142.8" cy="1070.0" r="12.2"/><circle cx="1143.8" cy="1079.8" r="12.2"/><circle cx="1144.9" cy="1086.0" r="12.2"/><circle cx="1146.0" cy="1079.3" r="12.2"/><circle cx="1147.0" cy="1076.7" r="12.2"/><circle cx="1148.1" cy="1076.2" r="12.2"/><circle cx="1149.2" cy="1084.4" r="12.2"/><circle cx="1150.3" cy="1070.8" r="12.2"/><circle cx="1151.3" cy="1074.9" r="12.2"/><circle cx="1152.4" cy="1077.7" r="12.2"/><circle cx="1153.5" cy="1079.1" r="12.2"/><circle cx="1154.6" cy="1073.2" r="12.2"/><circle cx="1155.6" cy="1076.9" r="12.2"/><circle cx="1156.7" cy="1073.9" r="12.2"/><circle cx="1157.8" cy="1075.9" r="12.2"/><circle cx="1158.9" cy="1074.6" r="12.2"/><circle cx="1159.9" cy="1069.5" r="12.2"/><circle cx="1161.0" cy="1075.1" r="12.2"/><circle cx="1162.1" cy="1079.6" r="12.2"/><circle cx="1163.2" cy="1070.3" r="12.2"/><circle cx="1164.2" cy="1073.9" r="12.2"/><circle cx="1165.3" cy="1078.4" r="12.2"/><circle cx="1166.4" cy="1069.7" r="12.2"/><circle cx="1167.4" cy="1075.9" r="12.2"/><circle cx="1168.5" cy="1069.6" r="12.2"/><circle cx="1169.6" cy="1080.5" r="12.2"/><circle cx="1170.7" cy="1085.7" r="12.2"/><circle cx="1171.7" cy="1084.7" r="12.2"/><circle cx="1172.8" cy="1073.4" r="12.2"/><circle cx="1173.9" cy="1078.1" r="12.2"/><circle cx="1175.0" cy="1074.9" r="12.2"/><circle cx="1176.0" cy="1074.6" r="12.2"/><circle cx="1177.1" cy="1081.7" r="12.2"/><circle cx="1178.2" cy="1067.1" r="12.2"/><circle cx="1179.3" cy="1078.7" r="12.2"/><circle cx="1180.3" cy="1072.9" r="12.2"/><circle cx="1181.4" cy="1079.8" r="12.2"/><circle cx="1182.5" cy="1073.3" r="12.2"/><circle cx="1183.5" cy="1068.5" r="12.2"/><circle cx="1184.6" cy="1072.6" r="12.2"/><circle cx="1185.7" cy="1074.1" r="12.2"/><circle cx="1186.8" cy="1069.5" r="12.2"/><circle cx="1187.8" cy="1070.4" r="12.2"/><circle cx="1188.9" cy="1063.4" r="12.2"/><circle cx="1190.0" cy="1052.4" r="12.2"/><circle cx="1191.1" cy="1054.0" r="12.2"/><circle cx="1192.1" cy="1041.9" r="12.2"/><circle cx="1193.2" cy="1020.4" r="12.2"/><circle cx="1194.3" cy="990.6" r="12.2"/><circle cx="1195.4" cy="946.7" r="12.2"/><circle cx="1196.4" cy="894.5" r="12.2"/><circle cx="1197.5" cy="874.9" r="12.2"/><circle cx="1198.6" cy="893.9" r="12.2"/><circle cx="1199.7" cy="920.2" r="12.2"/><circle cx="1200.7" cy="937.8" r="12.2"/><circle cx="1201.8" cy="972.5" r="12.2"/><circle cx="1202.9" cy="1004.6" r="12.2"/><circle cx="1203.9" cy="1025.0" r="12.2"/><circle cx="1205.0" cy="1040.0" r="12.2"/><circle cx="1206.1" cy="1052.0" r="12.2"/><circle cx="1207.2" cy="1055.0" r="12.2"/><circle cx="1208.2" cy="1063.6" r="12.2"/><circle cx="1209.3" cy="1072.3" r="12.2"/><circle cx="1210.4" cy="1075.1" r="12.2"/><circle cx="1211.5" cy="1068.1" r="12.2"/><circle cx="1212.5" cy="1073.2" r="12.2"/><circle cx="1213.6" cy="1075.4" r="12.2"/><circle cx="1214.7" cy="1069.1" r="12.2"/><circle cx="1215.8" cy="1074.5" r="12.2"/><circle cx="1216.8" cy="1073.0" r="12.2"/><circle cx="1217.9" cy="1070.8" r="12.2"/><circle cx="1219.0" cy="1071.2" r="12.2"/><circle cx="1220.0" cy="1074.2" r="12.2"/><circle cx="1221.1" cy="1074.2" r="12.2"/><circle cx="1222.2" cy="1071.4" r="12.2"/><circle cx="1223.3" cy="1072.3" r="12.2"/><circle cx="1224.3" cy="1080.1" r="12.2"/><circle cx="1225.4" cy="1075.7" r="12.2"/><circle cx="1226.5" cy="1079.1" r="12.2"/><circle cx="1227.6" cy="1080.8" r="12.2"/><circle cx="1228.6" cy="1077.8" r="12.2"/><circle cx="1229.7" cy="1085.9" r="12.2"/><circle cx="1230.8" cy="1070.9" r="12.2"/><circle cx="1231.9" cy="1079.1" r="12.2"/><circle cx="1232.9" cy="1073.5" r="12.2"/><circle cx="1234.0" cy="1084.4" r="12.2"/><circle cx="1235.1" cy="1083.7" r="12.2"/><circle cx="1236.2" cy="1065.4" r="12.2"/><circle cx="1237.2" cy="1070.4" r="12.2"/><circle cx="1238.3" cy="1078.6" r="12.2"/><circle cx="1239.4" cy="1079.3" r="12.2"/><circle cx="1240.4" cy="1079.0" r="12.2"/><circle cx="1241.5" cy="1075.0" r="12.2"/><circle cx="1242.6" cy="1077.7" r="12.2"/><circle cx="1243.7" cy="1078.7" r="12.2"/><circle cx="1244.7" cy="1075.0" r="12.2"/><circle cx="1245.8" cy="1080.6" r="12.2"/><circle cx="1246.9" cy="1064.5" r="12.2"/><circle cx="1248.0" cy="1078.6" r="12.2"/><circle cx="1249.0" cy="1070.3" r="12.2"/><circle cx="1250.1" cy="1080.3" r="12.2"/><circle cx="1251.2" cy="1074.4" r="12.2"/><circle cx="1252.3" cy="1071.1" r="12.2"/><circle cx="1253.3" cy="1077.4" r="12.2"/><circle cx="1254.4" cy="1071.0" r="12.2"/><circle cx="1255.5" cy="1071.0" r="12.2"/><circle cx="1256.5" cy="1067.7" r="12.2"/><circle cx="1257.6" cy="1075.4" r="12.2"/><circle cx="1258.7" cy="1078.0" r="12.2"/><circle cx="1259.8" cy="1080.7" r="12.2"/><circle cx="1260.8" cy="1074.9" r="12.2"/><circle cx="1261.9" cy="1080.8" r="12.2"/><circle cx="1263.0" cy="1075.7" r="12.2"/><circle cx="1264.1" cy="1075.1" r="12.2"/><circle cx="1265.1" cy="1078.4" r="12.2"/><circle cx="1266.2" cy="1080.9" r="12.2"/><circle cx="1267.3" cy="1073.9" r="12.2"/><circle cx="1268.4" cy="1074.4" r="12.2"/><circle cx="1269.4" cy="1074.8" r="12.2"/><circle cx="1270.5" cy="1076.0" r="12.2"/><circle cx="1271.6" cy="1071.1" r="12.2"/><circle cx="1272.7" cy="1080.7" r="12.2"/><circle cx="1273.7" cy="1073.6" r="12.2"/><circle cx="1274.8" cy="1077.9" r="12.2"/><circle cx="1275.9" cy="1071.4" r="12.2"/><circle cx="1276.9" cy="1077.4" r="12.2"/><circle cx="1278.0" cy="1077.5" r="12.2"/><circle cx="1279.1" cy="1073.5" r="12.2"/><circle cx="1280.2" cy="1085.7" r="12.2"/><circle cx="1281.2" cy="1077.4" r="12.2"/><circle cx="1282.3" cy="1084.4" r="12.2"/><circle cx="1283.4" cy="1080.3" r="12.2"/><circle cx="1284.5" cy="1072.2" r="12.2"/><circle cx="1285.5" cy="1073.6" r="12.2"/><circle cx="1286.6" cy="1077.7" r="12.2"/><circle cx="1287.7" cy="1075.8" r="12.2"/><circle cx="1288.8" cy="1075.7" r="12.2"/><circle cx="1289.8" cy="1074.1" r="12.2"/><circle cx="1290.9" cy="1066.4" r="12.2"/><circle cx="1292.0" cy="1074.3" r="12.2"/><circle cx="1293.0" cy="1064.4" r="12.2"/><circle cx="1294.1" cy="1077.3" r="12.2"/><circle cx="1295.2" cy="1071.8" r="12.2"/><circle cx="1296.3" cy="1071.8" r="12.2"/><circle cx="1297.3" cy="1074.3" r="12.2"/><circle cx="1298.4" cy="1076.7" r="12.2"/><circle cx="1299.5" cy="1068.2" r="12.2"/><circle cx="1300.6" cy="1066.6" r="12.2"/><circle cx="1301.6" cy="1070.0" r="12.2"/><circle cx="1302.7" cy="1065.1" r="12.2"/><circle cx="1303.8" cy="1070.4" r="12.2"/><circle cx="1304.9" cy="1083.2" r="12.2"/><circle cx="1305.9" cy="1069.9" r="12.2"/><circle cx="1307.0" cy="1078.4" r="12.2"/><circle cx="1308.1" cy="1068.2" r="12.2"/><circle cx="1309.1" cy="1076.6" r="12.2"/><circle cx="1310.2" cy="1073.4" r="12.2"/><circle cx="1311.3" cy="1074.7" r="12.2"/><circle cx="1312.4" cy="1077.7" r="12.2"/><circle cx="1313.4" cy="1083.6" r="12.2"/><circle cx="1314.5" cy="1075.7" r="12.2"/><circle cx="1315.6" cy="1075.3" r="12.2"/><circle cx="1316.7" cy="1069.7" r="12.2"/><circle cx="1317.7" cy="1077.4" r="12.2"/><circle cx="1318.8" cy="1073.2" r="12.2"/><circle cx="1319.9" cy="1078.5" r="12.2"/><circle cx="1321.0" cy="1074.0" r="12.2"/><circle cx="1322.0" cy="1082.7" r="12.2"/><circle cx="1323.1" cy="1064.0" r="12.2"/><circle cx="1324.2" cy="1072.2" r="12.2"/><circle cx="1325.3" cy="1077.9" r="12.2"/><circle cx="1326.3" cy="1071.5" r="12.2"/><circle cx="1327.4" cy="1069.0" r="12.2"/><circle cx="1328.5" cy="1071.3" r="12.2"/><circle cx="1329.5" cy="1065.3" r="12.2"/><circle cx="1330.6" cy="1072.4" r="12.2"/><circle cx="1331.7" cy="1082.2" r="12.2"/><circle cx="1332.8" cy="1076.3" r="12.2"/><circle cx="1333.8" cy="1064.1" r="12.2"/><circle cx="1334.9" cy="1064.3" r="12.2"/><circle cx="1336.0" cy="1065.3" r="12.2"/><circle cx="1337.1" cy="1070.6" r="12.2"/><circle cx="1338.1" cy="1056.0" r="12.2"/><circle cx="1339.2" cy="1046.0" r="12.2"/><circle cx="1340.3" cy="1036.0" r="12.2"/><circle cx="1341.4" cy="1024.5" r="12.2"/><circle cx="1342.4" cy="998.6" r="12.2"/><circle cx="1343.5" cy="979.7" r="12.2"/><circle cx="1344.6" cy="925.0" r="12.2"/><circle cx="1345.6" cy="859.5" r="12.2"/><circle cx="1346.7" cy="799.2" r="12.2"/><circle cx="1347.8" cy="808.4" r="12.2"/><circle cx="1348.9" cy="856.9" r="12.2"/><circle cx="1349.9" cy="882.0" r="12.2"/><circle cx="1351.0" cy="886.0" r="12.2"/><circle cx="1352.1" cy="904.8" r="12.2"/><circle cx="1353.2" cy="944.6" r="12.2"/><circle cx="1354.2" cy="991.7" r="12.2"/><circle cx="1355.3" cy="1014.5" r="12.2"/><circle cx="1356.4" cy="1034.4" r="12.2"/><circle cx="1357.5" cy="1042.0" r="12.2"/><circle cx="1358.5" cy="1050.0" r="12.2"/><circle cx="1359.6" cy="1058.0" r="12.2"/><circle cx="1360.7" cy="1074.1" r="12.2"/><circle cx="1361.8" cy="1057.2" r="12.2"/><circle cx="1362.8" cy="1063.8" r="12.2"/><circle cx="1363.9" cy="1068.9" r="12.2"/><circle cx="1365.0" cy="1069.9" r="12.2"/><circle cx="1366.0" cy="1072.4" r="12.2"/><circle cx="1367.1" cy="1073.5" r="12.2"/><circle cx="1368.2" cy="1071.5" r="12.2"/><circle cx="1369.3" cy="1078.6" r="12.2"/><circle cx="1370.3" cy="1062.5" r="12.2"/><circle cx="1371.4" cy="1073.4" r="12.2"/><circle cx="1372.5" cy="1070.1" r="12.2"/><circle cx="1373.6" cy="1074.5" r="12.2"/><circle cx="1374.6" cy="1075.1" r="12.2"/><circle cx="1375.7" cy="1069.6" r="12.2"/><circle cx="1376.8" cy="1071.1" r="12.2"/><circle cx="1377.9" cy="1078.4" r="12.2"/><circle cx="1378.9" cy="1076.3" r="12.2"/><circle cx="1380.0" cy="1071.2" r="12.2"/><circle cx="1381.1" cy="1084.9" r="12.2"/><circle cx="1382.1" cy="1085.8" r="12.2"/><circle cx="1383.2" cy="1067.5" r="12.2"/><circle cx="1384.3" cy="1076.4" r="12.2"/><circle cx="1385.4" cy="1086.0" r="12.2"/><circle cx="1386.4" cy="1079.0" r="12.2"/><circle cx="1387.5" cy="1076.2" r="12.2"/><circle cx="1388.6" cy="1074.1" r="12.2"/><circle cx="1389.7" cy="1072.5" r="12.2"/><circle cx="1390.7" cy="1074.1" r="12.2"/><circle cx="1391.8" cy="1072.5" r="12.2"/><circle cx="1392.9" cy="1079.0" r="12.2"/><circle cx="1394.0" cy="1073.3" r="12.2"/><circle cx="1395.0" cy="1073.1" r="12.2"/><circle cx="1396.1" cy="1069.3" r="12.2"/><circle cx="1397.2" cy="1075.1" r="12.2"/><circle cx="1398.3" cy="1070.9" r="12.2"/><circle cx="1399.3" cy="1074.5" r="12.2"/><circle cx="1400.4" cy="1080.7" r="12.2"/><circle cx="1401.5" cy="1077.3" r="12.2"/><circle cx="1402.5" cy="1078.0" r="12.2"/><circle cx="1403.6" cy="1077.3" r="12.2"/><circle cx="1404.7" cy="1075.8" r="12.2"/><circle cx="1405.8" cy="1074.9" r="12.2"/><circle cx="1406.8" cy="1074.0" r="12.2"/><circle cx="1407.9" cy="1079.3" r="12.2"/><circle cx="1409.0" cy="1070.1" r="12.2"/><circle cx="1410.1" cy="1082.3" r="12.2"/><circle cx="1411.1" cy="1075.7" r="12.2"/><circle cx="1412.2" cy="1071.8" r="12.2"/><circle cx="1413.3" cy="1073.1" r="12.2"/><circle cx="1414.4" cy="1072.2" r="12.2"/><circle cx="1415.4" cy="1076.4" r="12.2"/><circle cx="1416.5" cy="1072.0" r="12.2"/><circle cx="1417.6" cy="1081.3" r="12.2"/><circle cx="1418.6" cy="1071.7" r="12.2"/><circle cx="1419.7" cy="1064.6" r="12.2"/><circle cx="1420.8" cy="1071.9" r="12.2"/><circle cx="1421.9" cy="1065.5" r="12.2"/><circle cx="1422.9" cy="1075.3" r="12.2"/><circle cx="1424.0" cy="1080.8" r="12.2"/><circle cx="1425.1" cy="1078.7" r="12.2"/><circle cx="1426.2" cy="1068.6" r="12.2"/><circle cx="1427.2" cy="1071.3" r="12.2"/><circle cx="1428.3" cy="1083.7" r="12.2"/><circle cx="1429.4" cy="1075.6" r="12.2"/><circle cx="1430.5" cy="1072.9" r="12.2"/><circle cx="1431.5" cy="1076.6" r="12.2"/><circle cx="1432.6" cy="1081.0" r="12.2"/><circle cx="1433.7" cy="1076.3" r="12.2"/><circle cx="1434.8" cy="1071.3" r="12.2"/><circle cx="1435.8" cy="1073.2" r="12.2"/><circle cx="1436.9" cy="1074.9" r="12.2"/><circle cx="1438.0" cy="1069.0" r="12.2"/><circle cx="1439.0" cy="1067.5" r="12.2"/><circle cx="1440.1" cy="1074.0" r="12.2"/><circle cx="1441.2" cy="1069.7" r="12.2"/><circle cx="1442.3" cy="1074.7" r="12.2"/><circle cx="1443.3" cy="1075.8" r="12.2"/><circle cx="1444.4" cy="1086.5" r="12.2"/><circle cx="1445.5" cy="1071.3" r="12.2"/><circle cx="1446.6" cy="1075.0" r="12.2"/><circle cx="1447.6" cy="1074.8" r="12.2"/><circle cx="1448.7" cy="1077.9" r="12.2"/><circle cx="1449.8" cy="1080.9" r="12.2"/><circle cx="1450.9" cy="1073.3" r="12.2"/><circle cx="1451.9" cy="1071.6" r="12.2"/><circle cx="1453.0" cy="1067.5" r="12.2"/><circle cx="1454.1" cy="1071.1" r="12.2"/><circle cx="1455.1" cy="1078.5" r="12.2"/><circle cx="1456.2" cy="1076.0" r="12.2"/><circle cx="1457.3" cy="1070.7" r="12.2"/><circle cx="1458.4" cy="1073.9" r="12.2"/><circle cx="1459.4" cy="1076.0" r="12.2"/><circle cx="1460.5" cy="1078.3" r="12.2"/><circle cx="1461.6" cy="1072.9" r="12.2"/><circle cx="1462.7" cy="1074.6" r="12.2"/><circle cx="1463.7" cy="1066.7" r="12.2"/><circle cx="1464.8" cy="1070.1" r="12.2"/><circle cx="1465.9" cy="1083.9" r="12.2"/><circle cx="1467.0" cy="1064.9" r="12.2"/><circle cx="1468.0" cy="1074.2" r="12.2"/><circle cx="1469.1" cy="1076.9" r="12.2"/><circle cx="1470.2" cy="1074.0" r="12.2"/><circle cx="1471.3" cy="1071.8" r="12.2"/><circle cx="1472.3" cy="1075.5" r="12.2"/><circle cx="1473.4" cy="1075.8" r="12.2"/><circle cx="1474.5" cy="1075.4" r="12.2"/><circle cx="1475.5" cy="1066.5" r="12.2"/><circle cx="1476.6" cy="1075.1" r="12.2"/><circle cx="1477.7" cy="1071.6" r="12.2"/><circle cx="1478.8" cy="1073.1" r="12.2"/><circle cx="1479.8" cy="1077.0" r="12.2"/><circle cx="1480.9" cy="1079.1" r="12.2"/><circle cx="1482.0" cy="1080.4" r="12.2"/><circle cx="1483.1" cy="1073.4" r="12.2"/><circle cx="1484.1" cy="1080.5" r="12.2"/><circle cx="1485.2" cy="1081.7" r="12.2"/><circle cx="1486.3" cy="1081.6" r="12.2"/><circle cx="1487.4" cy="1082.8" r="12.2"/><circle cx="1488.4" cy="1075.1" r="12.2"/><circle cx="1489.5" cy="1075.0" r="12.2"/><circle cx="1490.6" cy="1080.0" r="12.2"/><circle cx="1491.6" cy="1069.0" r="12.2"/><circle cx="1492.7" cy="1076.9" r="12.2"/><circle cx="1493.8" cy="1073.2" r="12.2"/><circle cx="1494.9" cy="1074.0" r="12.2"/><circle cx="1495.9" cy="1067.2" r="12.2"/><circle cx="1497.0" cy="1071.4" r="12.2"/><circle cx="1498.1" cy="1075.8" r="12.2"/><circle cx="1499.2" cy="1080.3" r="12.2"/><circle cx="1500.2" cy="1080.8" r="12.2"/><circle cx="1501.3" cy="1075.5" r="12.2"/><circle cx="1502.4" cy="1074.9" r="12.2"/><circle cx="1503.5" cy="1071.7" r="12.2"/><circle cx="1504.5" cy="1077.9" r="12.2"/><circle cx="1505.6" cy="1074.6" r="12.2"/><circle cx="1506.7" cy="1078.9" r="12.2"/><circle cx="1507.8" cy="1084.6" r="12.2"/><circle cx="1508.8" cy="1075.7" r="12.2"/><circle cx="1509.9" cy="1068.4" r="12.2"/><circle cx="1511.0" cy="1071.6" r="12.2"/><circle cx="1512.0" cy="1068.6" r="12.2"/><circle cx="1513.1" cy="1069.9" r="12.2"/><circle cx="1514.2" cy="1082.4" r="12.2"/><circle cx="1515.3" cy="1077.0" r="12.2"/><circle cx="1516.3" cy="1068.3" r="12.2"/><circle cx="1517.4" cy="1079.2" r="12.2"/><circle cx="1518.5" cy="1082.2" r="12.2"/><circle cx="1519.6" cy="1074.1" r="12.2"/><circle cx="1520.6" cy="1072.5" r="12.2"/><circle cx="1521.7" cy="1074.2" r="12.2"/><circle cx="1522.8" cy="1077.3" r="12.2"/><circle cx="1523.9" cy="1079.1" r="12.2"/><circle cx="1524.9" cy="1081.8" r="12.2"/><circle cx="1526.0" cy="1081.9" r="12.2"/><circle cx="1527.1" cy="1081.8" r="12.2"/><circle cx="1528.1" cy="1082.7" r="12.2"/><circle cx="1529.2" cy="1079.2" r="12.2"/><circle cx="1530.3" cy="1068.2" r="12.2"/><circle cx="1531.4" cy="1075.2" r="12.2"/><circle cx="1532.4" cy="1077.4" r="12.2"/><circle cx="1533.5" cy="1073.9" r="12.2"/><circle cx="1534.6" cy="1080.4" r="12.2"/><circle cx="1535.7" cy="1074.1" r="12.2"/><circle cx="1536.7" cy="1071.2" r="12.2"/><circle cx="1537.8" cy="1083.1" r="12.2"/><circle cx="1538.9" cy="1079.2" r="12.2"/><circle cx="1540.0" cy="1076.9" r="12.2"/><circle cx="1541.0" cy="1080.5" r="12.2"/><circle cx="1542.1" cy="1081.1" r="12.2"/><circle cx="1543.2" cy="1077.5" r="12.2"/><circle cx="1544.3" cy="1064.8" r="12.2"/><circle cx="1545.3" cy="1072.4" r="12.2"/><circle cx="1546.4" cy="1073.5" r="12.2"/><circle cx="1547.5" cy="1070.9" r="12.2"/><circle cx="1548.5" cy="1076.8" r="12.2"/><circle cx="1549.6" cy="1081.7" r="12.2"/><circle cx="1550.7" cy="1073.3" r="12.2"/><circle cx="1551.8" cy="1070.0" r="12.2"/><circle cx="1552.8" cy="1085.8" r="12.2"/><circle cx="1553.9" cy="1073.4" r="12.2"/><circle cx="1555.0" cy="1069.5" r="12.2"/><circle cx="1556.1" cy="1076.8" r="12.2"/><circle cx="1557.1" cy="1077.7" r="12.2"/><circle cx="1558.2" cy="1072.0" r="12.2"/><circle cx="1559.3" cy="1079.4" r="12.2"/><circle cx="1560.4" cy="1072.9" r="12.2"/><circle cx="1561.4" cy="1070.6" r="12.2"/><circle cx="1562.5" cy="1076.0" r="12.2"/><circle cx="1563.6" cy="1078.7" r="12.2"/><circle cx="1564.6" cy="1071.4" r="12.2"/><circle cx="1565.7" cy="1075.8" r="12.2"/><circle cx="1566.8" cy="1072.7" r="12.2"/><circle cx="1567.9" cy="1082.4" r="12.2"/><circle cx="1568.9" cy="1064.5" r="12.2"/><circle cx="1570.0" cy="1069.9" r="12.2"/><circle cx="1571.1" cy="1057.0" r="12.2"/><circle cx="1572.2" cy="1053.3" r="12.2"/><circle cx="1573.2" cy="1059.1" r="12.2"/><circle cx="1574.3" cy="1063.7" r="12.2"/><circle cx="1575.4" cy="1068.2" r="12.2"/><circle cx="1576.5" cy="1064.2" r="12.2"/><circle cx="1577.5" cy="1059.9" r="12.2"/><circle cx="1578.6" cy="1062.3" r="12.2"/><circle cx="1579.7" cy="1070.7" r="12.2"/><circle cx="1580.8" cy="1073.9" r="12.2"/><circle cx="1581.8" cy="1079.9" r="12.2"/><circle cx="1582.9" cy="1076.1" r="12.2"/><circle cx="1584.0" cy="1079.9" r="12.2"/><circle cx="1585.0" cy="1082.5" r="12.2"/><circle cx="1586.1" cy="1075.9" r="12.2"/><circle cx="1587.2" cy="1067.8" r="12.2"/><circle cx="1588.3" cy="1069.5" r="12.2"/><circle cx="1589.3" cy="1068.2" r="12.2"/><circle cx="1590.4" cy="1083.4" r="12.2"/><circle cx="1591.5" cy="1071.3" r="12.2"/><circle cx="1592.6" cy="1081.7" r="12.2"/><circle cx="1593.6" cy="1078.5" r="12.2"/><circle cx="1594.7" cy="1084.2" r="12.2"/><circle cx="1595.8" cy="1080.7" r="12.2"/><circle cx="1596.9" cy="1075.2" r="12.2"/><circle cx="1597.9" cy="1074.7" r="12.2"/><circle cx="1599.0" cy="1076.1" r="12.2"/><circle cx="1600.1" cy="1076.6" r="12.2"/><circle cx="1601.1" cy="1073.1" r="12.2"/><circle cx="1602.2" cy="1075.6" r="12.2"/><circle cx="1603.3" cy="1083.8" r="12.2"/><circle cx="1604.4" cy="1067.2" r="12.2"/><circle cx="1605.4" cy="1077.1" r="12.2"/><circle cx="1606.5" cy="1071.2" r="12.2"/><circle cx="1607.6" cy="1076.7" r="12.2"/><circle cx="1608.7" cy="1080.0" r="12.2"/><circle cx="1609.7" cy="1075.5" r="12.2"/><circle cx="1610.8" cy="1079.6" r="12.2"/><circle cx="1611.9" cy="1067.8" r="12.2"/><circle cx="1613.0" cy="1081.3" r="12.2"/><circle cx="1614.0" cy="1072.8" r="12.2"/><circle cx="1615.1" cy="1078.9" r="12.2"/><circle cx="1616.2" cy="1076.7" r="12.2"/><circle cx="1617.3" cy="1064.8" r="12.2"/><circle cx="1618.3" cy="1072.0" r="12.2"/><circle cx="1619.4" cy="1076.8" r="12.2"/><circle cx="1620.5" cy="1083.5" r="12.2"/><circle cx="1621.5" cy="1077.2" r="12.2"/><circle cx="1622.6" cy="1077.0" r="12.2"/><circle cx="1623.7" cy="1068.6" r="12.2"/><circle cx="1624.8" cy="1082.9" r="12.2"/><circle cx="1625.8" cy="1084.7" r="12.2"/><circle cx="1626.9" cy="1075.8" r="12.2"/><circle cx="1628.0" cy="1074.5" r="12.2"/><circle cx="1629.1" cy="1067.5" r="12.2"/><circle cx="1630.1" cy="1080.0" r="12.2"/><circle cx="1631.2" cy="1086.6" r="12.2"/><circle cx="1632.3" cy="1079.1" r="12.2"/><circle cx="1633.4" cy="1081.8" r="12.2"/><circle cx="1634.4" cy="1078.2" r="12.2"/><circle cx="1635.5" cy="1070.5" r="12.2"/><circle cx="1636.6" cy="1082.0" r="12.2"/><circle cx="1637.6" cy="1069.1" r="12.2"/><circle cx="1638.7" cy="1074.1" r="12.2"/><circle cx="1639.8" cy="1076.5" r="12.2"/><circle cx="1640.9" cy="1079.4" r="12.2"/><circle cx="1641.9" cy="1076.9" r="12.2"/><circle cx="1643.0" cy="1076.5" r="12.2"/><circle cx="1644.1" cy="1070.5" r="12.2"/><circle cx="1645.2" cy="1067.5" r="12.2"/><circle cx="1646.2" cy="1073.6" r="12.2"/><circle cx="1647.3" cy="1068.7" r="12.2"/><circle cx="1648.4" cy="1063.8" r="12.2"/><circle cx="1649.5" cy="1060.1" r="12.2"/><circle cx="1650.5" cy="1057.1" r="12.2"/><circle cx="1651.6" cy="1040.5" r="12.2"/><circle cx="1652.7" cy="1033.1" r="12.2"/><circle cx="1653.7" cy="1027.7" r="12.2"/><circle cx="1654.8" cy="1041.6" r="12.2"/><circle cx="1655.9" cy="1050.1" r="12.2"/><circle cx="1657.0" cy="1062.3" r="12.2"/><circle cx="1658.0" cy="1045.2" r="12.2"/><circle cx="1659.1" cy="1049.3" r="12.2"/><circle cx="1660.2" cy="1060.5" r="12.2"/><circle cx="1661.3" cy="1060.5" r="12.2"/><circle cx="1662.3" cy="1065.0" r="12.2"/><circle cx="1663.4" cy="1078.8" r="12.2"/><circle cx="1664.5" cy="1070.6" r="12.2"/><circle cx="1665.6" cy="1067.5" r="12.2"/><circle cx="1666.6" cy="1067.3" r="12.2"/><circle cx="1667.7" cy="1075.8" r="12.2"/><circle cx="1668.8" cy="1075.9" r="12.2"/><circle cx="1669.9" cy="1067.6" r="12.2"/><circle cx="1670.9" cy="1069.6" r="12.2"/><circle cx="1672.0" cy="1077.2" r="12.2"/><circle cx="1673.1" cy="1077.3" r="12.2"/><circle cx="1674.1" cy="1070.9" r="12.2"/><circle cx="1675.2" cy="1076.6" r="12.2"/><circle cx="1676.3" cy="1075.0" r="12.2"/><circle cx="1677.4" cy="1060.9" r="12.2"/><circle cx="1678.4" cy="1064.8" r="12.2"/><circle cx="1679.5" cy="1065.0" r="12.2"/><circle cx="1680.6" cy="1058.8" r="12.2"/><circle cx="1681.7" cy="1052.7" r="12.2"/><circle cx="1682.7" cy="1064.7" r="12.2"/><circle cx="1683.8" cy="1071.4" r="12.2"/><circle cx="1684.9" cy="1075.7" r="12.2"/><circle cx="1686.0" cy="1056.7" r="12.2"/><circle cx="1687.0" cy="1079.7" r="12.2"/><circle cx="1688.1" cy="1065.0" r="12.2"/><circle cx="1689.2" cy="1077.3" r="12.2"/><circle cx="1690.2" cy="1079.9" r="12.2"/><circle cx="1691.3" cy="1079.5" r="12.2"/><circle cx="1692.4" cy="1075.7" r="12.2"/><circle cx="1693.5" cy="1069.4" r="12.2"/><circle cx="1694.5" cy="1078.4" r="12.2"/><circle cx="1695.6" cy="1071.8" r="12.2"/><circle cx="1696.7" cy="1064.5" r="12.2"/><circle cx="1697.8" cy="1086.5" r="12.2"/><circle cx="1698.8" cy="1079.1" r="12.2"/><circle cx="1699.9" cy="1084.7" r="12.2"/><circle cx="1701.0" cy="1071.1" r="12.2"/><circle cx="1702.1" cy="1083.0" r="12.2"/><circle cx="1703.1" cy="1083.7" r="12.2"/><circle cx="1704.2" cy="1083.5" r="12.2"/><circle cx="1705.3" cy="1075.6" r="12.2"/><circle cx="1706.4" cy="1069.7" r="12.2"/><circle cx="1707.4" cy="1074.9" r="12.2"/><circle cx="1708.5" cy="1064.8" r="12.2"/><circle cx="1709.6" cy="1067.3" r="12.2"/><circle cx="1710.6" cy="1076.3" r="12.2"/><circle cx="1711.7" cy="1070.9" r="12.2"/><circle cx="1712.8" cy="1075.0" r="12.2"/><circle cx="1713.9" cy="1075.3" r="12.2"/><circle cx="1714.9" cy="1085.5" r="12.2"/><circle cx="1716.0" cy="1082.3" r="12.2"/><circle cx="1717.1" cy="1075.6" r="12.2"/><circle cx="1718.2" cy="1081.9" r="12.2"/><circle cx="1719.2" cy="1072.0" r="12.2"/><circle cx="1720.3" cy="1074.2" r="12.2"/><circle cx="1721.4" cy="1080.4" r="12.2"/><circle cx="1722.5" cy="1069.7" r="12.2"/><circle cx="1723.5" cy="1074.5" r="12.2"/><circle cx="1724.6" cy="1069.3" r="12.2"/><circle cx="1725.7" cy="1076.5" r="12.2"/><circle cx="1726.7" cy="1084.0" r="12.2"/><circle cx="1727.8" cy="1072.1" r="12.2"/><circle cx="1728.9" cy="1077.0" r="12.2"/><circle cx="1730.0" cy="1071.4" r="12.2"/><circle cx="1731.0" cy="1070.1" r="12.2"/><circle cx="1732.1" cy="1069.7" r="12.2"/><circle cx="1733.2" cy="1083.2" r="12.2"/><circle cx="1734.3" cy="1086.9" r="12.2"/><circle cx="1735.3" cy="1078.3" r="12.2"/><circle cx="1736.4" cy="1072.3" r="12.2"/><circle cx="1737.5" cy="1079.4" r="12.2"/><circle cx="1738.6" cy="1074.2" r="12.2"/><circle cx="1739.6" cy="1079.9" r="12.2"/><circle cx="1740.7" cy="1077.3" r="12.2"/><circle cx="1741.8" cy="1077.3" r="12.2"/><circle cx="1742.9" cy="1078.9" r="12.2"/><circle cx="1743.9" cy="1073.0" r="12.2"/><circle cx="1745.0" cy="1073.9" r="12.2"/><circle cx="1746.1" cy="1067.3" r="12.2"/><circle cx="1747.1" cy="1073.7" r="12.2"/><circle cx="1748.2" cy="1068.8" r="12.2"/><circle cx="1749.3" cy="1075.1" r="12.2"/><circle cx="1750.4" cy="1071.1" r="12.2"/><circle cx="1751.4" cy="1076.4" r="12.2"/><circle cx="1752.5" cy="1078.1" r="12.2"/><circle cx="1753.6" cy="1068.8" r="12.2"/><circle cx="1754.7" cy="1071.8" r="12.2"/><circle cx="1755.7" cy="1071.1" r="12.2"/><circle cx="1756.8" cy="1079.6" r="12.2"/><circle cx="1757.9" cy="1084.4" r="12.2"/><circle cx="1759.0" cy="1080.1" r="12.2"/><circle cx="1760.0" cy="1074.1" r="12.2"/><circle cx="1761.1" cy="1083.1" r="12.2"/><circle cx="1762.2" cy="1068.2" r="12.2"/><circle cx="1763.2" cy="1083.3" r="12.2"/><circle cx="1764.3" cy="1072.5" r="12.2"/><circle cx="1765.4" cy="1064.8" r="12.2"/><circle cx="1766.5" cy="1086.7" r="12.2"/><circle cx="1767.5" cy="1083.6" r="12.2"/><circle cx="1768.6" cy="1070.5" r="12.2"/><circle cx="1769.7" cy="1076.5" r="12.2"/><circle cx="1770.8" cy="1074.6" r="12.2"/><circle cx="1771.8" cy="1076.1" r="12.2"/><circle cx="1772.9" cy="1068.1" r="12.2"/><circle cx="1774.0" cy="1072.1" r="12.2"/><circle cx="1775.1" cy="1077.7" r="12.2"/><circle cx="1776.1" cy="1076.4" r="12.2"/><circle cx="1777.2" cy="1081.1" r="12.2"/><circle cx="1778.3" cy="1075.3" r="12.2"/><circle cx="1779.4" cy="1085.6" r="12.2"/><circle cx="1780.4" cy="1070.5" r="12.2"/><circle cx="1781.5" cy="1074.2" r="12.2"/><circle cx="1782.6" cy="1061.2" r="12.2"/><circle cx="1783.6" cy="1060.8" r="12.2"/><circle cx="1784.7" cy="1068.6" r="12.2"/><circle cx="1785.8" cy="1052.4" r="12.2"/><circle cx="1786.9" cy="1058.6" r="12.2"/><circle cx="1787.9" cy="1058.8" r="12.2"/><circle cx="1789.0" cy="1057.9" r="12.2"/><circle cx="1790.1" cy="1063.6" r="12.2"/><circle cx="1791.2" cy="1062.8" r="12.2"/><circle cx="1792.2" cy="1062.2" r="12.2"/><circle cx="1793.3" cy="1069.1" r="12.2"/><circle cx="1794.4" cy="1071.1" r="12.2"/><circle cx="1795.5" cy="1067.7" r="12.2"/><circle cx="1796.5" cy="1068.1" r="12.2"/><circle cx="1797.6" cy="1075.4" r="12.2"/><circle cx="1798.7" cy="1074.1" r="12.2"/><circle cx="1799.7" cy="1080.1" r="12.2"/><circle cx="1800.8" cy="1086.2" r="12.2"/><circle cx="1801.9" cy="1079.5" r="12.2"/><circle cx="1803.0" cy="1075.3" r="12.2"/><circle cx="1804.0" cy="1074.6" r="12.2"/><circle cx="1805.1" cy="1071.3" r="12.2"/><circle cx="1806.2" cy="1071.1" r="12.2"/><circle cx="1807.3" cy="1070.6" r="12.2"/><circle cx="1808.3" cy="1073.7" r="12.2"/><circle cx="1809.4" cy="1073.6" r="12.2"/><circle cx="1810.5" cy="1079.5" r="12.2"/><circle cx="1811.6" cy="1073.8" r="12.2"/><circle cx="1812.6" cy="1074.8" r="12.2"/><circle cx="1813.7" cy="1069.7" r="12.2"/><circle cx="1814.8" cy="1084.0" r="12.2"/><circle cx="1815.9" cy="1078.4" r="12.2"/><circle cx="1816.9" cy="1084.8" r="12.2"/><circle cx="1818.0" cy="1079.8" r="12.2"/><circle cx="1819.1" cy="1083.3" r="12.2"/><circle cx="1820.1" cy="1074.6" r="12.2"/><circle cx="1821.2" cy="1079.4" r="12.2"/><circle cx="1822.3" cy="1086.9" r="12.2"/><circle cx="1823.4" cy="1069.8" r="12.2"/><circle cx="1824.4" cy="1081.8" r="12.2"/><circle cx="1825.5" cy="1084.4" r="12.2"/><circle cx="1826.6" cy="1078.0" r="12.2"/><circle cx="1827.7" cy="1079.7" r="12.2"/><circle cx="1828.7" cy="1082.3" r="12.2"/><circle cx="1829.8" cy="1072.5" r="12.2"/><circle cx="1830.9" cy="1078.0" r="12.2"/><circle cx="1832.0" cy="1071.5" r="12.2"/><circle cx="1833.0" cy="1072.4" r="12.2"/><circle cx="1834.1" cy="1072.7" r="12.2"/><circle cx="1835.2" cy="1075.2" r="12.2"/><circle cx="1836.2" cy="1076.7" r="12.2"/><circle cx="1837.3" cy="1078.2" r="12.2"/><circle cx="1838.4" cy="1068.6" r="12.2"/><circle cx="1839.5" cy="1086.0" r="12.2"/><circle cx="1840.5" cy="1081.8" r="12.2"/><circle cx="1841.6" cy="1079.6" r="12.2"/><circle cx="1842.7" cy="1074.1" r="12.2"/><circle cx="1843.8" cy="1075.4" r="12.2"/><circle cx="1844.8" cy="1078.7" r="12.2"/><circle cx="1845.9" cy="1078.0" r="12.2"/><circle cx="1847.0" cy="1067.3" r="12.2"/><circle cx="1848.1" cy="1079.7" r="12.2"/><circle cx="1849.1" cy="1086.9" r="12.2"/><circle cx="1850.2" cy="1066.4" r="12.2"/><circle cx="1851.3" cy="1081.0" r="12.2"/><circle cx="1852.4" cy="1077.7" r="12.2"/><circle cx="1853.4" cy="1075.3" r="12.2"/><circle cx="1854.5" cy="1082.9" r="12.2"/><circle cx="1855.6" cy="1069.7" r="12.2"/><circle cx="1856.6" cy="1076.6" r="12.2"/><circle cx="1857.7" cy="1083.2" r="12.2"/><circle cx="1858.8" cy="1074.6" r="12.2"/><circle cx="1859.9" cy="1073.3" r="12.2"/><circle cx="1860.9" cy="1075.6" r="12.2"/><circle cx="1862.0" cy="1072.1" r="12.2"/><circle cx="1863.1" cy="1081.4" r="12.2"/><circle cx="1864.2" cy="1067.7" r="12.2"/><circle cx="1865.2" cy="1076.4" r="12.2"/><circle cx="1866.3" cy="1066.0" r="12.2"/><circle cx="1867.4" cy="1076.7" r="12.2"/><circle cx="1868.5" cy="1073.4" r="12.2"/><circle cx="1869.5" cy="1063.0" r="12.2"/><circle cx="1870.6" cy="1073.8" r="12.2"/><circle cx="1871.7" cy="1068.3" r="12.2"/><circle cx="1872.7" cy="1071.8" r="12.2"/><circle cx="1873.8" cy="1082.5" r="12.2"/><circle cx="1874.9" cy="1069.4" r="12.2"/><circle cx="1876.0" cy="1070.0" r="12.2"/><circle cx="1877.0" cy="1083.0" r="12.2"/><circle cx="1878.1" cy="1076.3" r="12.2"/><circle cx="1879.2" cy="1083.7" r="12.2"/><circle cx="1880.3" cy="1077.5" r="12.2"/><circle cx="1881.3" cy="1071.3" r="12.2"/><circle cx="1882.4" cy="1075.5" r="12.2"/><circle cx="1883.5" cy="1082.2" r="12.2"/><circle cx="1884.6" cy="1080.7" r="12.2"/><circle cx="1885.6" cy="1075.9" r="12.2"/><circle cx="1886.7" cy="1076.2" r="12.2"/><circle cx="1887.8" cy="1075.3" r="12.2"/><circle cx="1888.9" cy="1072.9" r="12.2"/><circle cx="1889.9" cy="1085.8" r="12.2"/><circle cx="1891.0" cy="1076.0" r="12.2"/><circle cx="1892.1" cy="1070.1" r="12.2"/><circle cx="1893.1" cy="1073.5" r="12.2"/><circle cx="1894.2" cy="1079.7" r="12.2"/><circle cx="1895.3" cy="1079.2" r="12.2"/><circle cx="1896.4" cy="1075.2" r="12.2"/><circle cx="1897.4" cy="1072.5" r="12.2"/><circle cx="1898.5" cy="1076.1" r="12.2"/><circle cx="1899.6" cy="1067.3" r="12.2"/><circle cx="1900.7" cy="1069.2" r="12.2"/><circle cx="1901.7" cy="1080.0" r="12.2"/><circle cx="1902.8" cy="1073.5" r="12.2"/><circle cx="1903.9" cy="1077.9" r="12.2"/><circle cx="1905.0" cy="1082.2" r="12.2"/><circle cx="1906.0" cy="1079.3" r="12.2"/><circle cx="1907.1" cy="1076.0" r="12.2"/><circle cx="1908.2" cy="1086.9" r="12.2"/><circle cx="1909.2" cy="1079.4" r="12.2"/><circle cx="1910.3" cy="1074.1" r="12.2"/><circle cx="1911.4" cy="1079.7" r="12.2"/><circle cx="1912.5" cy="1078.0" r="12.2"/><circle cx="1913.5" cy="1071.5" r="12.2"/><circle cx="1914.6" cy="1076.3" r="12.2"/><circle cx="1915.7" cy="1075.1" r="12.2"/><circle cx="1916.8" cy="1065.8" r="12.2"/><circle cx="1917.8" cy="1075.1" r="12.2"/><circle cx="1918.9" cy="1074.5" r="12.2"/><circle cx="1920.0" cy="1073.7" r="12.2"/><circle cx="1921.1" cy="1067.5" r="12.2"/><circle cx="1922.1" cy="1074.1" r="12.2"/><circle cx="1923.2" cy="1075.7" r="12.2"/><circle cx="1924.3" cy="1076.5" r="12.2"/><circle cx="1925.4" cy="1070.1" r="12.2"/><circle cx="1926.4" cy="1079.2" r="12.2"/><circle cx="1927.5" cy="1069.7" r="12.2"/><circle cx="1928.6" cy="1074.8" r="12.2"/><circle cx="1929.6" cy="1082.6" r="12.2"/><circle cx="1930.7" cy="1072.4" r="12.2"/><circle cx="1931.8" cy="1073.3" r="12.2"/><circle cx="1932.9" cy="1081.5" r="12.2"/><circle cx="1933.9" cy="1074.0" r="12.2"/><circle cx="1935.0" cy="1074.4" r="12.2"/><circle cx="1936.1" cy="1077.1" r="12.2"/><circle cx="1937.2" cy="1081.3" r="12.2"/><circle cx="1938.2" cy="1064.9" r="12.2"/><circle cx="1939.3" cy="1071.7" r="12.2"/><circle cx="1940.4" cy="1070.8" r="12.2"/><circle cx="1941.5" cy="1070.4" r="12.2"/><circle cx="1942.5" cy="1071.5" r="12.2"/><circle cx="1943.6" cy="1071.6" r="12.2"/><circle cx="1944.7" cy="1077.5" r="12.2"/><circle cx="1945.7" cy="1071.4" r="12.2"/><circle cx="1946.8" cy="1076.5" r="12.2"/><circle cx="1947.9" cy="1078.0" r="12.2"/><circle cx="1949.0" cy="1072.2" r="12.2"/><circle cx="1950.0" cy="1076.6" r="12.2"/><circle cx="1951.1" cy="1084.3" r="12.2"/><circle cx="1952.2" cy="1077.6" r="12.2"/><circle cx="1953.3" cy="1072.6" r="12.2"/><circle cx="1954.3" cy="1075.6" r="12.2"/><circle cx="1955.4" cy="1071.2" r="12.2"/><circle cx="1956.5" cy="1077.3" r="12.2"/><circle cx="1957.6" cy="1080.3" r="12.2"/><circle cx="1958.6" cy="1071.7" r="12.2"/><circle cx="1959.7" cy="1074.8" r="12.2"/><circle cx="1960.8" cy="1081.6" r="12.2"/><circle cx="1961.9" cy="1073.3" r="12.2"/><circle cx="1962.9" cy="1076.8" r="12.2"/><circle cx="1964.0" cy="1070.6" r="12.2"/><circle cx="1965.1" cy="1071.7" r="12.2"/><circle cx="1966.1" cy="1073.2" r="12.2"/><circle cx="1967.2" cy="1086.7" r="12.2"/><circle cx="1968.3" cy="1073.8" r="12.2"/><circle cx="1969.4" cy="1073.2" r="12.2"/><circle cx="1970.4" cy="1073.0" r="12.2"/><circle cx="1971.5" cy="1075.0" r="12.2"/><circle cx="1972.6" cy="1079.1" r="12.2"/><circle cx="1973.7" cy="1076.7" r="12.2"/><circle cx="1974.7" cy="1086.0" r="12.2"/><circle cx="1975.8" cy="1076.8" r="12.2"/><circle cx="1976.9" cy="1082.9" r="12.2"/><circle cx="1978.0" cy="1077.1" r="12.2"/><circle cx="1979.0" cy="1078.7" r="12.2"/><circle cx="1980.1" cy="1068.4" r="12.2"/><circle cx="1981.2" cy="1074.9" r="12.2"/><circle cx="1982.2" cy="1075.1" r="12.2"/><circle cx="1983.3" cy="1074.2" r="12.2"/><circle cx="1984.4" cy="1064.5" r="12.2"/><circle cx="1985.5" cy="1079.6" r="12.2"/><circle cx="1986.5" cy="1073.0" r="12.2"/><circle cx="1987.6" cy="1072.5" r="12.2"/><circle cx="1988.7" cy="1072.9" r="12.2"/><circle cx="1989.8" cy="1072.1" r="12.2"/><circle cx="1990.8" cy="1073.4" r="12.2"/><circle cx="1991.9" cy="1061.7" r="12.2"/><circle cx="1993.0" cy="1058.5" r="12.2"/><circle cx="1994.1" cy="1059.5" r="12.2"/><circle cx="1995.1" cy="1056.7" r="12.2"/><circle cx="1996.2" cy="1056.7" r="12.2"/><circle cx="1997.3" cy="1060.3" r="12.2"/><circle cx="1998.3" cy="1062.4" r="12.2"/><circle cx="1999.4" cy="1067.3" r="12.2"/><circle cx="2000.5" cy="1072.5" r="12.2"/><circle cx="2001.6" cy="1059.9" r="12.2"/><circle cx="2002.6" cy="1073.1" r="12.2"/><circle cx="2003.7" cy="1072.0" r="12.2"/><circle cx="2004.8" cy="1068.2" r="12.2"/><circle cx="2005.9" cy="1076.5" r="12.2"/><circle cx="2006.9" cy="1066.6" r="12.2"/><circle cx="2008.0" cy="1065.9" r="12.2"/><circle cx="2009.1" cy="1068.5" r="12.2"/><circle cx="2010.2" cy="1073.1" r="12.2"/><circle cx="2011.2" cy="1073.7" r="12.2"/><circle cx="2012.3" cy="1072.8" r="12.2"/><circle cx="2013.4" cy="1076.0" r="12.2"/><circle cx="2014.5" cy="1064.8" r="12.2"/><circle cx="2015.5" cy="1078.0" r="12.2"/><circle cx="2016.6" cy="1068.5" r="12.2"/><circle cx="2017.7" cy="1072.3" r="12.2"/><circle cx="2018.7" cy="1073.6" r="12.2"/><circle cx="2019.8" cy="1069.9" r="12.2"/><circle cx="2020.9" cy="1068.8" r="12.2"/><circle cx="2022.0" cy="1070.7" r="12.2"/><circle cx="2023.0" cy="1075.6" r="12.2"/><circle cx="2024.1" cy="1078.7" r="12.2"/><circle cx="2025.2" cy="1078.5" r="12.2"/><circle cx="2026.3" cy="1070.7" r="12.2"/><circle cx="2027.3" cy="1071.8" r="12.2"/><circle cx="2028.4" cy="1071.1" r="12.2"/><circle cx="2029.5" cy="1078.0" r="12.2"/><circle cx="2030.6" cy="1065.5" r="12.2"/><circle cx="2031.6" cy="1081.9" r="12.2"/><circle cx="2032.7" cy="1073.3" r="12.2"/><circle cx="2033.8" cy="1071.8" r="12.2"/><circle cx="2034.8" cy="1077.4" r="12.2"/><circle cx="2035.9" cy="1080.9" r="12.2"/><circle cx="2037.0" cy="1077.4" r="12.2"/><circle cx="2038.1" cy="1080.9" r="12.2"/><circle cx="2039.1" cy="1076.3" r="12.2"/><circle cx="2040.2" cy="1081.8" r="12.2"/><circle cx="2041.3" cy="1081.9" r="12.2"/><circle cx="2042.4" cy="1075.1" r="12.2"/><circle cx="2043.4" cy="1082.8" r="12.2"/><circle cx="2044.5" cy="1076.4" r="12.2"/><circle cx="2045.6" cy="1076.0" r="12.2"/><circle cx="2046.7" cy="1070.9" r="12.2"/><circle cx="2047.7" cy="1074.0" r="12.2"/><circle cx="2048.8" cy="1079.3" r="12.2"/><circle cx="2049.9" cy="1068.8" r="12.2"/><circle cx="2051.0" cy="1078.6" r="12.2"/><circle cx="2052.0" cy="1077.0" r="12.2"/><circle cx="2053.1" cy="1076.6" r="12.2"/><circle cx="2054.2" cy="1064.1" r="12.2"/><circle cx="2055.2" cy="1074.5" r="12.2"/><circle cx="2056.3" cy="1078.1" r="12.2"/><circle cx="2057.4" cy="1071.0" r="12.2"/><circle cx="2058.5" cy="1075.0" r="12.2"/><circle cx="2059.5" cy="1063.4" r="12.2"/><circle cx="2060.6" cy="1077.5" r="12.2"/><circle cx="2061.7" cy="1070.5" r="12.2"/><circle cx="2062.8" cy="1077.7" r="12.2"/><circle cx="2063.8" cy="1063.5" r="12.2"/><circle cx="2064.9" cy="1068.0" r="12.2"/><circle cx="2066.0" cy="1067.0" r="12.2"/><circle cx="2067.1" cy="1065.0" r="12.2"/><circle cx="2068.1" cy="1062.0" r="12.2"/><circle cx="2069.2" cy="1058.0" r="12.2"/><circle cx="2070.3" cy="1052.8" r="12.2"/><circle cx="2071.3" cy="1033.2" r="12.2"/><circle cx="2072.4" cy="1020.7" r="12.2"/><circle cx="2073.5" cy="1006.2" r="12.2"/><circle cx="2074.6" cy="1025.0" r="12.2"/><circle cx="2075.6" cy="1031.0" r="12.2"/><circle cx="2076.7" cy="1035.2" r="12.2"/></g>
<path id="calculated" d="M203.4,1059.5 204.5,1059.6 205.6,1059.6 206.6,1059.7 207.7,1059.7 208.8,1059.8 209.9,1059.8 210.9,1059.9 212.0,1060.0 213.1,1060.0 214.2,1060.1 215.2,1060.1 216.3,1060.2 217.4,1060.2 218.5,1060.3 219.5,1060.3 220.6,1060.4 221.7,1060.4 222.7,1060.5 223.8,1060.5 224.9,1060.6 226.0,1060.7 227.0,1060.7 228.1,1060.8 229.2,1060.8 230.3,1060.9 231.3,1060.9 232.4,1061.0 233.5,1061.0 234.6,1061.1 235.6,1061.1 236.7,1061.2 237.8,1061.2 238.9,1061.3 239.9,1061.4 241.0,1061.4 242.1,1061.5 243.1,1061.5 244.2,1061.6 245.3,1061.6 246.4,1061.7 247.4,1061.7 248.5,1061.8 249.6,1061.8 250.7,1061.9 251.7,1062.0 252.8,1062.0 253.9,1062.1 255.0,1062.1 256.0,1062.2 257.1,1062.2 258.2,1062.3 259.2,1062.3 260.3,1062.4 261.4,1062.4 262.5,1062.5 263.5,1062.5 264.6,1062.6 265.7,1062.7 266.8,1062.7 267.8,1062.8 268.9,1062.8 270.0,1062.9 271.1,1062.9 272.1,1063.0 273.2,1063.0 274.3,1063.1 275.4,1063.1 276.4,1063.2 277.5,1063.2 278.6,1063.3 279.6,1063.4 280.7,1063.4 281.8,1063.5 282.9,1063.5 283.9,1063.6 285.0,1063.6 286.1,1063.7 287.2,1063.7 288.2,1063.8 289.3,1063.8 290.4,1063.9 291.5,1064.0 292.5,1064.0 293.6,1064.1 294.7,1064.1 295.7,1064.2 296.8,1064.2 297.9,1064.3 299.0,1064.3 300.0,1064.4 301.1,1064.4 302.2,1064.5 303.3,1064.5 304.3,1064.6 305.4,1064.7 306.5,1064.7 307.6,1064.8 308.6,1064.8 309.7,1064.9 310.8,1064.9 311.8,1065.0 312.9,1065.0 314.0,1065.1 315.1,1065.1 316.1,1065.2 317.2,1065.2 318.3,1065.3 319.4,1065.4 320.4,1065.4 321.5,1065.5 322.6,1065.5 323.7,1065.6 324.7,1065.6 325.8,1065.7 326.9,1065.7 328.0,1065.8 329.0,1065.8 330.1,1065.9 331.2,1065.9 332.2,1066.0 333.3,1066.1 334.4,1066.1 335.5,1066.2 336.5,1066.2 337.6,1066.3 338.7,1066.3 339.8,1066.4 340.8,1066.4 341.9,1066.5 343.0,1066.5 344.1,1066.6 345.1,1066.7 346.2,1066.7 347.3,1066.8 348.3,1066.8 349.4,1066.9 350.5,1066.9 351.6,1067.0 352.6,1067.0 353.7,1067.1 354.8,1067.1 355.9,1067.2 356.9,1067.2 358.0,1067.3 359.1,1067.4 360.2,1067.4 361.2,1067.5 362.3,1067.5 363.4,1067.6 364.5,1067.6 365.5,1067.7 366.6,1067.7 367.7,1067.8 368.7,1067.8 369.8,1067.9 370.9,1067.9 372.0,1068.0 373.0,1068.1 374.1,1068.1 375.2,1068.2 376.3,1068.2 377.3,1068.3 378.4,1068.3 379.5,1068.4 380.6,1068.4 381.6,1068.5 382.7,1068.5 383.8,1068.6 384.8,1068.7 385.9,1068.7 387.0,1068.8 388.1,1068.8 389.1,1068.9 390.2,1068.9 391.3,1069.0 392.4,1069.0 393.4,1069.1 394.5,1069.1 395.6,1069.2 396.7,1069.2 397.7,1069.3 398.8,1069.4 399.9,1069.4 401.0,1069.5 402.0,1069.5 403.1,1069.6 404.2,1069.6 405.2,1069.7 406.3,1069.7 407.4,1069.8 408.5,1069.8 409.5,1069.9 410.6,1069.9 411.7,1070.0 412.8,1070.1 413.8,1070.1 414.9,1070.2 416.0,1070.2 417.1,1070.3 418.1,1070.3 419.2,1070.4 420.3,1070.4 421.3,1070.5 422.4,1070.5 423.5,1070.6 424.6,1070.6 425.6,1070.7 426.7,1070.8 427.8,1070.8 428.9,1070.9 429.9,1070.9 431.0,1071.0 432.1,1071.0 433.2,1071.1 434.2,1071.1 435.3,1071.2 436.4,1071.2 437.5,1071.3 438.5,1071.4 439.6,1071.4 440.7,1071.5 441.7,1071.5 442.8,1071.6 443.9,1071.6 445.0,1071.7 446.0,1071.7 447.1,1071.8 448.2,1071.8 449.3,1071.9 450.3,1071.9 451.4,1072.0 452.5,1072.1 453.6,1072.1 454.6,1072.2 455.7,1072.2 456.8,1072.3 457.8,1072.3 458.9,1070.3 460.0,1067.8 461.1,1067.1 462.1,1066.4 463.2,1065.5 464.3,1064.4 465.4,1063.0 466.4,1061.2 467.5,1058.7 468.6,1055.4 469.7,1050.7 470.7,1043.8 471.8,1033.3 472.9,1016.2 474.0,987.2 475.0,936.8 476.1,861.5 477.2,808.3 478.2,824.4 479.3,872.3 480.4,935.8 481.5,985.6 482.5,1015.6 483.6,1033.3 484.7,1044.2 485.8,1051.3 486.8,1056.2 487.9,1059.7 489.0,1062.3 490.1,1064.2 491.1,1065.8 492.2,1067.0 493.3,1068.0 494.3,1068.8 495.4,1069.5 496.5,1070.9 497.6,1073.2 498.6,1074.4 499.7,1074.4 500.8,1074.5 501.9,1074.5 502.9,1074.6 504.0,1074.6 505.1,1074.7 506.2,1074.8 507.2,1074.8 508.3,1074.9 509.4,1074.9 510.5,1075.0 511.5,1075.0 512.6,1075.1 513.7,1075.1 514.7,1075.2 515.8,1075.2 516.9,1075.2 518.0,1075.2 519.0,1075.2 520.1,1075.2 521.2,1075.2 522.3,1075.2 523.3,1075.2 524.4,1075.2 525.5,1075.2 526.6,1075.2 527.6,1075.2 528.7,1075.2 529.8,1075.2 530.8,1075.2 531.9,1075.2 533.0,1075.2 534.1,1075.2 535.1,1075.2 536.2,1075.2 537.3,1075.2 538.4,1075.2 539.4,1075.2 540.5,1075.2 541.6,1075.2 542.7,1075.2 543.7,1075.2 544.8,1075.2 545.9,1075.2 547.0,1075.2 548.0,1075.2 549.1,1075.2 550.2,1075.2 551.2,1075.2 552.3,1075.2 553.4,1075.2 554.5,1075.2 555.5,1075.2 556.6,1075.2 557.7,1075.2 558.8,1075.2 559.8,1075.2 560.9,1075.2 562.0,1075.2 563.1,1075.2 564.1,1075.2 565.2,1075.2 566.3,1075.2 567.3,1075.2 568.4,1075.2 569.5,1075.2 570.6,1075.2 571.6,1075.2 572.7,1075.2 573.8,1075.2 574.9,1075.2 575.9,1075.2 577.0,1075.2 578.1,1075.2 579.2,1075.2 580.2,1075.2 581.3,1075.2 582.4,1075.2 583.5,1075.2 584.5,1075.2 585.6,1075.2 586.7,1075.2 587.7,1075.2 588.8,1075.2 589.9,1075.2 591.0,1075.2 592.0,1075.2 593.1,1075.2 594.2,1075.2 595.3,1075.2 596.3,1075.2 597.4,1075.2 598.5,1075.2 599.6,1075.2 600.6,1075.2 601.7,1075.2 602.8,1075.2 603.8,1067.4 604.9,1055.4 606.0,1049.3 607.1,1045.1 608.1,1039.9 609.2,1033.1 610.3,1024.2 611.4,1012.1 612.4,995.4 613.5,971.1 614.6,934.4 615.7,875.7 616.7,776.6 617.8,604.3 618.9,336.5 620.0,115.2 621.0,153.8 622.1,284.0 623.2,474.4 624.2,681.0 625.3,819.8 626.4,901.5 627.5,950.8 628.5,982.1 629.6,1003.0 630.7,1017.7 631.8,1028.3 632.8,1036.2 633.9,1042.3 635.0,1047.1 636.1,1050.9 637.1,1053.9 638.2,1065.1 639.3,1074.4 640.3,1075.2 641.4,1075.2 642.5,1075.2 643.6,1075.2 644.6,1075.2 645.7,1075.2 646.8,1075.2 647.9,1075.2 648.9,1075.2 650.0,1075.2 651.1,1074.8 652.2,1074.0 653.2,1073.4 654.3,1073.0 655.4,1072.6 656.4,1072.0 657.5,1071.1 658.6,1069.9 659.7,1068.2 660.7,1065.4 661.8,1060.8 662.9,1052.8 664.0,1039.5 665.0,1025.0 666.1,1023.2 667.2,1029.8 668.3,1038.0 669.3,1049.5 670.4,1058.7 671.5,1064.2 672.6,1067.5 673.6,1069.5 674.7,1070.8 675.8,1071.8 676.8,1072.4 677.9,1072.9 679.0,1073.3 680.1,1073.6 681.1,1074.1 682.2,1074.8 683.3,1075.2 684.4,1075.2 685.4,1075.2 686.5,1075.2 687.6,1075.2 688.7,1075.2 689.7,1075.2 690.8,1075.2 691.9,1075.2 692.9,1075.2 694.0,1075.2 695.1,1075.2 696.2,1075.2 697.2,1075.2 698.3,1075.2 699.4,1075.2 700.5,1075.2 701.5,1075.2 702.6,1075.2 703.7,1075.2 704.8,1075.2 705.8,1075.2 706.9,1075.2 708.0,1075.2 709.1,1075.2 710.1,1075.2 711.2,1075.2 712.3,1075.2 713.3,1075.2 714.4,1075.2 715.5,1075.2 716.6,1075.2 717.6,1075.2 718.7,1075.2 719.8,1075.2 720.9,1075.2 721.9,1075.2 723.0,1075.2 724.1,1075.2 725.2,1075.2 726.2,1075.2 727.3,1075.2 728.4,1075.2 729.4,1075.2 730.5,1075.2 731.6,1075.2 732.7,1075.2 733.7,1075.2 734.8,1075.2 735.9,1075.2 737.0,1075.2 738.0,1075.2 739.1,1075.2 740.2,1075.2 741.3,1075.2 742.3,1075.2 743.4,1075.2 744.5,1075.2 745.6,1075.2 746.6,1075.2 747.7,1075.2 748.8,1075.2 749.8,1075.2 750.9,1075.2 752.0,1075.2 753.1,1075.2 754.1,1075.2 755.2,1075.2 756.3,1075.2 757.4,1075.2 758.4,1075.2 759.5,1075.2 760.6,1075.2 761.7,1075.2 762.7,1075.2 763.8,1075.2 764.9,1075.2 765.9,1075.2 767.0,1075.2 768.1,1075.2 769.2,1075.2 770.2,1075.2 771.3,1075.2 772.4,1075.2 773.5,1075.2 774.5,1075.2 775.6,1075.2 776.7,1075.2 777.8,1075.2 778.8,1075.2 779.9,1075.2 781.0,1075.2 782.1,1075.2 783.1,1075.2 784.2,1075.2 785.3,1075.2 786.3,1075.2 787.4,1075.2 788.5,1075.2 789.6,1075.2 790.6,1075.2 791.7,1075.2 792.8,1075.2 793.9,1075.2 794.9,1075.2 796.0,1075.2 797.1,1075.2 798.2,1075.2 799.2,1075.2 800.3,1075.2 801.4,1075.2 802.4,1075.2 803.5,1075.2 804.6,1075.2 805.7,1075.2 806.7,1075.2 807.8,1075.2 808.9,1075.2 810.0,1074.4 811.0,1072.3 812.1,1070.6 813.2,1069.9 814.3,1069.0 815.3,1067.8 816.4,1066.2 817.5,1064.1 818.6,1061.2 819.6,1057.0 820.7,1050.7 821.8,1040.6 822.8,1023.6 823.9,994.0 825.0,947.7 826.1,909.2 827.1,918.6 828.2,939.6 829.3,958.1 830.4,991.0 831.4,1020.6 832.5,1039.0 833.6,1049.9 834.7,1056.6 835.7,1061.0 836.8,1064.0 837.9,1066.2 838.9,1067.7 840.0,1068.9 841.1,1069.9 842.2,1070.6 843.2,1071.2 844.3,1072.8 845.4,1074.6 846.5,1075.2 847.5,1075.2 848.6,1075.2 849.7,1075.2 850.8,1075.2 851.8,1075.2 852.9,1075.2 854.0,1075.2 855.1,1075.2 856.1,1075.2 857.2,1075.2 858.3,1075.2 859.3,1075.2 860.4,1075.2 861.5,1075.2 862.6,1075.2 863.6,1075.2 864.7,1075.2 865.8,1075.2 866.9,1075.2 867.9,1075.2 869.0,1075.2 870.1,1075.2 871.2,1075.2 872.2,1075.2 873.3,1075.2 874.4,1075.2 875.4,1075.2 876.5,1075.2 877.6,1075.2 878.7,1075.2 879.7,1075.2 880.8,1075.2 881.9,1075.2 883.0,1075.2 884.0,1075.2 885.1,1075.2 886.2,1075.2 887.3,1075.2 888.3,1075.2 889.4,1075.2 890.5,1075.2 891.6,1075.2 892.6,1075.2 893.7,1075.2 894.8,1075.2 895.8,1075.2 896.9,1075.2 898.0,1075.2 899.1,1075.2 900.1,1075.1 901.2,1075.1 902.3,1075.1 903.4,1075.1 904.4,1075.1 905.5,1075.1 906.6,1075.1 907.7,1075.1 908.7,1075.1 909.8,1075.1 910.9,1075.1 911.9,1075.1 913.0,1075.1 914.1,1075.1 915.2,1075.0 916.2,1075.0 917.3,1075.0 918.4,1075.0 919.5,1075.0 920.5,1074.9 921.6,1074.9 922.7,1074.8 923.8,1074.8 924.8,1074.7 925.9,1074.5 927.0,1074.4 928.1,1074.1 929.1,1073.7 930.2,1073.2 931.3,1072.2 932.3,1070.5 933.4,1067.7 934.5,1065.2 935.6,1065.7 936.6,1067.1 937.7,1067.8 938.8,1069.4 939.9,1071.3 940.9,1072.7 942.0,1073.5 943.1,1073.9 944.2,1074.3 945.2,1074.5 946.3,1074.6 947.4,1074.7 948.4,1074.8 949.5,1074.9 950.6,1074.9 951.7,1074.9 952.7,1075.0 953.8,1075.0 954.9,1075.0 956.0,1075.0 957.0,1075.1 958.1,1075.1 959.2,1075.1 960.3,1075.1 961.3,1075.1 962.4,1075.1 963.5,1075.1 964.5,1075.1 965.6,1075.1 966.7,1075.1 967.8,1075.1 968.8,1075.1 969.9,1075.1 971.0,1075.1 972.1,1075.2 973.1,1075.2 974.2,1075.2 975.3,1075.2 976.4,1075.2 977.4,1075.2 978.5,1075.2 979.6,1075.2 980.7,1075.2 981.7,1075.2 982.8,1075.2 983.9,1075.2 984.9,1075.2 986.0,1075.2 987.1,1075.2 988.2,1075.2 989.2,1075.2 990.3,1075.2 991.4,1075.2 992.5,1075.2 993.5,1075.2 994.6,1075.2 995.7,1075.2 996.8,1075.2 997.8,1075.2 998.9,1075.2 1000.0,1075.2 1001.0,1075.2 1002.1,1075.2 1003.2,1075.2 1004.3,1075.2 1005.3,1075.2 1006.4,1075.2 1007.5,1075.2 1008.6,1075.2 1009.6,1075.2 1010.7,1075.2 1011.8,1075.2 1012.9,1075.2 1013.9,1075.2 1015.0,1075.2 1016.1,1075.2 1017.2,1075.2 1018.2,1075.2 1019.3,1075.2 1020.4,1075.2 1021.4,1075.2 1022.5,1075.2 1023.6,1075.2 1024.7,1075.2 1025.7,1075.2 1026.8,1075.2 1027.9,1075.2 1029.0,1075.2 1030.0,1075.2 1031.1,1075.2 1032.2,1075.2 1033.3,1075.2 1034.3,1075.2 1035.4,1075.2 1036.5,1075.2 1037.5,1075.2 1038.6,1075.2 1039.7,1075.2 1040.8,1075.2 1041.8,1075.2 1042.9,1075.2 1044.0,1075.2 1045.1,1075.2 1046.1,1075.2 1047.2,1075.2 1048.3,1075.2 1049.4,1075.2 1050.4,1075.2 1051.5,1075.2 1052.6,1075.2 1053.7,1075.2 1054.7,1075.2 1055.8,1075.2 1056.9,1075.2 1057.9,1075.2 1059.0,1075.1 1060.1,1075.0 1061.2,1075.0 1062.2,1075.0 1063.3,1074.9 1064.4,1074.9 1065.5,1074.9 1066.5,1074.9 1067.6,1074.9 1068.7,1074.9 1069.8,1074.8 1070.8,1074.8 1071.9,1074.8 1073.0,1074.8 1074.0,1074.7 1075.1,1074.7 1076.2,1074.7 1077.3,1074.6 1078.3,1074.6 1079.4,1074.5 1080.5,1074.4 1081.6,1074.4 1082.6,1074.3 1083.7,1074.2 1084.8,1074.1 1085.9,1073.9 1086.9,1073.8 1088.0,1073.6 1089.1,1073.3 1090.2,1073.0 1091.2,1072.7 1092.3,1072.2 1093.4,1071.6 1094.4,1070.7 1095.5,1069.5 1096.6,1067.8 1097.7,1065.2 1098.7,1061.0 1099.8,1053.9 1100.9,1041.7 1102.0,1023.0 1103.0,1009.7 1104.1,1017.0 1105.2,1027.0 1106.3,1029.6 1107.3,1035.5 1108.4,1047.6 1109.5,1057.3 1110.5,1063.1 1111.6,1066.6 1112.7,1068.8 1113.8,1070.2 1114.8,1071.2 1115.9,1071.9 1117.0,1072.5 1118.1,1072.9 1119.1,1073.2 1120.2,1073.5 1121.3,1073.7 1122.4,1073.9 1123.4,1074.0 1124.5,1074.2 1125.6,1074.3 1126.7,1074.3 1127.7,1074.4 1128.8,1074.5 1129.9,1074.5 1130.9,1074.6 1132.0,1074.6 1133.1,1074.7 1134.2,1074.7 1135.2,1074.8 1136.3,1074.8 1137.4,1074.8 1138.5,1074.8 1139.5,1074.9 1140.6,1074.9 1141.7,1074.9 1142.8,1074.9 1143.8,1074.9 1144.9,1074.9 1146.0,1075.0 1147.0,1075.0 1148.1,1075.0 1149.2,1075.0 1150.3,1075.0 1151.3,1075.1 1152.4,1075.2 1153.5,1074.8 1154.6,1074.3 1155.6,1074.3 1156.7,1074.2 1157.8,1074.2 1158.9,1074.1 1159.9,1074.1 1161.0,1074.0 1162.1,1073.9 1163.2,1073.9 1164.2,1073.8 1165.3,1073.7 1166.4,1073.6 1167.4,1073.5 1168.5,1073.3 1169.6,1073.2 1170.7,1073.0 1171.7,1072.9 1172.8,1072.7 1173.9,1072.4 1175.0,1072.2 1176.0,1071.9 1177.1,1071.6 1178.2,1071.2 1179.3,1070.7 1180.3,1070.2 1181.4,1069.5 1182.5,1068.8 1183.5,1067.8 1184.6,1066.6 1185.7,1065.2 1186.8,1063.3 1187.8,1060.8 1188.9,1057.4 1190.0,1052.8 1191.1,1046.0 1192.1,1035.8 1193.2,1019.5 1194.3,992.0 1195.4,944.1 1196.4,870.3 1197.5,814.2 1198.6,842.6 1199.7,888.1 1200.7,899.2 1201.8,908.4 1202.9,950.8 1203.9,993.9 1205.0,1021.2 1206.1,1037.4 1207.2,1047.3 1208.2,1053.8 1209.3,1058.3 1210.4,1061.5 1211.5,1063.8 1212.5,1065.6 1213.6,1067.0 1214.7,1068.1 1215.8,1069.0 1216.8,1069.8 1217.9,1070.4 1219.0,1070.9 1220.0,1071.3 1221.1,1071.7 1222.2,1072.0 1223.3,1072.3 1224.3,1072.5 1225.4,1072.7 1226.5,1072.9 1227.6,1073.1 1228.6,1073.3 1229.7,1073.4 1230.8,1073.5 1231.9,1073.6 1232.9,1073.7 1234.0,1073.8 1235.1,1073.9 1236.2,1074.0 1237.2,1074.0 1238.3,1074.1 1239.4,1074.2 1240.4,1074.2 1241.5,1074.3 1242.6,1074.3 1243.7,1074.3 1244.7,1074.4 1245.8,1074.9 1246.9,1075.2 1248.0,1075.2 1249.0,1075.2 1250.1,1075.2 1251.2,1075.2 1252.3,1075.2 1253.3,1075.2 1254.4,1075.2 1255.5,1075.2 1256.5,1075.2 1257.6,1075.2 1258.7,1075.2 1259.8,1075.2 1260.8,1075.2 1261.9,1075.2 1263.0,1075.2 1264.1,1075.2 1265.1,1075.2 1266.2,1075.2 1267.3,1075.2 1268.4,1075.2 1269.4,1075.2 1270.5,1075.2 1271.6,1075.2 1272.7,1075.2 1273.7,1075.2 1274.8,1075.2 1275.9,1075.2 1276.9,1075.2 1278.0,1075.2 1279.1,1075.2 1280.2,1075.2 1281.2,1075.2 1282.3,1075.2 1283.4,1075.2 1284.5,1075.2 1285.5,1075.2 1286.6,1075.2 1287.7,1075.2 1288.8,1075.2 1289.8,1075.2 1290.9,1075.2 1292.0,1075.2 1293.0,1075.2 1294.1,1075.2 1295.2,1075.2 1296.3,1075.2 1297.3,1075.2 1298.4,1075.2 1299.5,1075.2 1300.6,1075.2 1301.6,1075.2 1302.7,1074.9 1303.8,1074.4 1304.9,1074.2 1305.9,1074.1 1307.0,1074.1 1308.1,1074.0 1309.1,1073.9 1310.2,1073.9 1311.3,1073.8 1312.4,1073.7 1313.4,1073.6 1314.5,1073.5 1315.6,1073.4 1316.7,1073.3 1317.7,1073.1 1318.8,1073.0 1319.9,1072.8 1321.0,1072.6 1322.0,1072.4 1323.1,1072.1 1324.2,1071.8 1325.3,1071.5 1326.3,1071.1 1327.4,1070.7 1328.5,1070.2 1329.5,1069.6 1330.6,1068.9 1331.7,1068.0 1332.8,1066.9 1333.8,1065.6 1334.9,1064.0 1336.0,1061.9 1337.1,1059.1 1338.1,1055.4 1339.2,1050.2 1340.3,1042.8 1341.4,1031.5 1342.4,1013.4 1343.5,983.0 1344.6,929.9 1345.6,847.6 1346.7,784.2 1347.8,818.1 1348.9,876.5 1349.9,894.7 1351.0,888.6 1352.1,914.7 1353.2,965.9 1354.2,1003.9 1355.3,1026.5 1356.4,1040.2 1357.5,1048.8 1358.5,1054.6 1359.6,1058.6 1360.7,1061.6 1361.8,1063.8 1362.8,1065.5 1363.9,1066.9 1365.0,1067.9 1366.0,1068.8 1367.1,1069.5 1368.2,1070.2 1369.3,1070.7 1370.3,1071.1 1371.4,1071.5 1372.5,1071.8 1373.6,1072.1 1374.6,1072.4 1375.7,1072.6 1376.8,1072.8 1377.9,1073.0 1378.9,1073.1 1380.0,1073.2 1381.1,1073.4 1382.1,1073.5 1383.2,1073.6 1384.3,1073.7 1385.4,1073.8 1386.4,1073.9 1387.5,1073.9 1388.6,1074.0 1389.7,1074.0 1390.7,1074.1 1391.8,1074.1 1392.9,1074.2 1394.0,1074.2 1395.0,1074.6 1396.1,1075.1 1397.2,1075.2 1398.3,1075.2 1399.3,1075.2 1400.4,1075.1 1401.5,1075.1 1402.5,1075.1 1403.6,1075.1 1404.7,1075.1 1405.8,1075.1 1406.8,1075.1 1407.9,1075.1 1409.0,1075.1 1410.1,1075.1 1411.1,1075.1 1412.2,1075.1 1413.3,1075.1 1414.4,1075.1 1415.4,1075.0 1416.5,1075.0 1417.6,1075.0 1418.6,1075.0 1419.7,1074.9 1420.8,1074.9 1421.9,1074.8 1422.9,1074.8 1424.0,1074.7 1425.1,1074.5 1426.2,1074.4 1427.2,1074.1 1428.3,1073.8 1429.4,1073.2 1430.5,1072.2 1431.5,1070.4 1432.6,1067.7 1433.7,1065.7 1434.8,1066.9 1435.8,1068.9 1436.9,1069.6 1438.0,1069.3 1439.0,1069.7 1440.1,1071.3 1441.2,1072.6 1442.3,1073.5 1443.3,1074.0 1444.4,1074.3 1445.5,1074.5 1446.6,1074.6 1447.6,1074.7 1448.7,1074.8 1449.8,1074.9 1450.9,1074.9 1451.9,1074.9 1453.0,1074.9 1454.1,1075.0 1455.1,1075.0 1456.2,1074.9 1457.3,1074.9 1458.4,1074.9 1459.4,1074.7 1460.5,1074.6 1461.6,1074.5 1462.7,1074.6 1463.7,1074.7 1464.8,1074.8 1465.9,1074.8 1467.0,1074.8 1468.0,1074.9 1469.1,1075.0 1470.2,1075.0 1471.3,1075.1 1472.3,1075.1 1473.4,1075.1 1474.5,1075.1 1475.5,1075.1 1476.6,1075.1 1477.7,1075.1 1478.8,1075.1 1479.8,1075.2 1480.9,1075.2 1482.0,1075.2 1483.1,1075.2 1484.1,1075.2 1485.2,1075.2 1486.3,1075.2 1487.4,1075.2 1488.4,1075.2 1489.5,1075.2 1490.6,1075.2 1491.6,1075.2 1492.7,1075.2 1493.8,1075.2 1494.9,1075.2 1495.9,1075.2 1497.0,1075.2 1498.1,1075.2 1499.2,1075.2 1500.2,1075.2 1501.3,1075.2 1502.4,1075.2 1503.5,1075.2 1504.5,1075.2 1505.6,1075.2 1506.7,1075.2 1507.8,1075.2 1508.8,1075.2 1509.9,1075.2 1511.0,1075.2 1512.0,1075.2 1513.1,1075.2 1514.2,1075.2 1515.3,1075.2 1516.3,1075.2 1517.4,1075.2 1518.5,1075.2 1519.6,1075.2 1520.6,1075.2 1521.7,1075.2 1522.8,1075.2 1523.9,1075.2 1524.9,1075.2 1526.0,1075.2 1527.1,1075.2 1528.1,1075.2 1529.2,1075.2 1530.3,1075.1 1531.4,1075.1 1532.4,1075.1 1533.5,1075.1 1534.6,1075.1 1535.7,1075.1 1536.7,1075.1 1537.8,1075.1 1538.9,1075.1 1540.0,1075.1 1541.0,1075.1 1542.1,1075.1 1543.2,1075.1 1544.3,1075.1 1545.3,1075.1 1546.4,1075.1 1547.5,1075.0 1548.5,1075.0 1549.6,1075.0 1550.7,1075.0 1551.8,1075.0 1552.8,1075.0 1553.9,1074.9 1555.0,1074.9 1556.1,1074.8 1557.1,1074.8 1558.2,1074.7 1559.3,1074.7 1560.4,1074.6 1561.4,1074.5 1562.5,1074.3 1563.6,1074.1 1564.6,1073.8 1565.7,1073.4 1566.8,1072.7 1567.9,1071.7 1568.9,1070.0 1570.0,1066.9 1571.1,1062.3 1572.2,1059.2 1573.2,1061.6 1574.3,1065.2 1575.4,1066.7 1576.5,1066.1 1577.5,1065.6 1578.6,1067.6 1579.7,1070.2 1580.8,1071.9 1581.8,1072.9 1582.9,1073.5 1584.0,1073.9 1585.0,1074.2 1586.1,1074.4 1587.2,1074.5 1588.3,1074.6 1589.3,1074.7 1590.4,1074.8 1591.5,1074.8 1592.6,1074.9 1593.6,1074.9 1594.7,1074.9 1595.8,1075.0 1596.9,1075.0 1597.9,1075.0 1599.0,1075.0 1600.1,1075.0 1601.1,1075.1 1602.2,1075.1 1603.3,1075.1 1604.4,1075.1 1605.4,1075.1 1606.5,1075.1 1607.6,1075.1 1608.7,1075.1 1609.7,1075.1 1610.8,1075.0 1611.9,1074.9 1613.0,1074.9 1614.0,1074.9 1615.1,1074.9 1616.2,1074.9 1617.3,1074.9 1618.3,1074.9 1619.4,1074.9 1620.5,1074.9 1621.5,1074.9 1622.6,1074.9 1623.7,1074.9 1624.8,1074.8 1625.8,1074.8 1626.9,1074.8 1628.0,1074.7 1629.1,1074.7 1630.1,1074.7 1631.2,1074.6 1632.3,1074.6 1633.4,1074.5 1634.4,1074.4 1635.5,1074.3 1636.6,1074.2 1637.6,1074.1 1638.7,1073.9 1639.8,1073.7 1640.9,1073.5 1641.9,1073.2 1643.0,1072.8 1644.1,1072.3 1645.2,1071.6 1646.2,1070.7 1647.3,1069.3 1648.4,1067.2 1649.5,1063.8 1650.5,1057.9 1651.6,1047.8 1652.7,1033.3 1653.7,1026.1 1654.8,1035.6 1655.9,1046.3 1657.0,1050.4 1658.0,1048.5 1659.1,1045.8 1660.2,1050.6 1661.3,1058.7 1662.3,1064.3 1663.4,1067.5 1664.5,1069.5 1665.6,1070.7 1666.6,1071.5 1667.7,1072.1 1668.8,1072.4 1669.9,1072.6 1670.9,1072.7 1672.0,1072.7 1673.1,1072.5 1674.1,1072.1 1675.2,1071.5 1676.3,1070.4 1677.4,1068.4 1678.4,1064.9 1679.5,1059.9 1680.6,1057.7 1681.7,1061.1 1682.7,1064.9 1683.8,1066.4 1684.9,1065.8 1686.0,1064.7 1687.0,1066.2 1688.1,1069.1 1689.2,1071.1 1690.2,1072.3 1691.3,1073.1 1692.4,1073.5 1693.5,1073.8 1694.5,1074.1 1695.6,1074.2 1696.7,1074.4 1697.8,1074.5 1698.8,1074.6 1699.9,1074.6 1701.0,1074.7 1702.1,1074.8 1703.1,1074.9 1704.2,1074.9 1705.3,1075.0 1706.4,1075.0 1707.4,1075.0 1708.5,1075.0 1709.6,1075.0 1710.6,1075.1 1711.7,1075.1 1712.8,1075.1 1713.9,1075.1 1714.9,1075.1 1716.0,1075.1 1717.1,1075.1 1718.2,1075.1 1719.2,1075.1 1720.3,1075.1 1721.4,1075.1 1722.5,1075.1 1723.5,1075.1 1724.6,1075.1 1725.7,1075.1 1726.7,1075.1 1727.8,1075.1 1728.9,1075.2 1730.0,1075.2 1731.0,1075.2 1732.1,1075.2 1733.2,1075.2 1734.3,1075.2 1735.3,1075.2 1736.4,1075.2 1737.5,1075.2 1738.6,1075.2 1739.6,1075.2 1740.7,1075.2 1741.8,1075.2 1742.9,1075.2 1743.9,1075.2 1745.0,1075.1 1746.1,1075.1 1747.1,1075.1 1748.2,1075.1 1749.3,1075.1 1750.4,1075.1 1751.4,1075.1 1752.5,1075.1 1753.6,1075.1 1754.7,1075.1 1755.7,1075.1 1756.8,1075.1 1757.9,1075.0 1759.0,1075.0 1760.0,1075.0 1761.1,1075.0 1762.2,1075.0 1763.2,1075.0 1764.3,1075.0 1765.4,1074.9 1766.5,1074.9 1767.5,1074.9 1768.6,1074.8 1769.7,1074.8 1770.8,1074.7 1771.8,1074.7 1772.9,1074.6 1774.0,1074.5 1775.1,1074.4 1776.1,1074.3 1777.2,1074.1 1778.3,1073.8 1779.4,1073.5 1780.4,1073.0 1781.5,1072.2 1782.6,1071.0 1783.6,1069.1 1784.7,1065.7 1785.8,1060.0 1786.9,1054.2 1787.9,1055.3 1789.0,1060.9 1790.1,1064.5 1791.2,1065.4 1792.2,1064.1 1793.3,1062.6 1794.4,1064.7 1795.5,1068.2 1796.5,1070.6 1797.6,1072.1 1798.7,1072.9 1799.7,1073.5 1800.8,1073.8 1801.9,1074.1 1803.0,1074.3 1804.0,1074.4 1805.1,1074.5 1806.2,1074.6 1807.3,1074.7 1808.3,1074.8 1809.4,1074.8 1810.5,1074.9 1811.6,1074.9 1812.6,1074.9 1813.7,1074.9 1814.8,1075.0 1815.9,1075.0 1816.9,1075.0 1818.0,1075.0 1819.1,1075.0 1820.1,1075.0 1821.2,1075.1 1822.3,1075.1 1823.4,1075.1 1824.4,1075.1 1825.5,1075.1 1826.6,1075.1 1827.7,1075.1 1828.7,1075.1 1829.8,1075.1 1830.9,1075.1 1832.0,1075.1 1833.0,1075.1 1834.1,1075.1 1835.2,1075.1 1836.2,1075.1 1837.3,1075.2 1838.4,1075.2 1839.5,1075.2 1840.5,1075.2 1841.6,1075.2 1842.7,1075.1 1843.8,1075.1 1844.8,1075.1 1845.9,1075.1 1847.0,1075.1 1848.1,1075.1 1849.1,1075.1 1850.2,1075.1 1851.3,1075.1 1852.4,1075.1 1853.4,1075.0 1854.5,1075.0 1855.6,1075.0 1856.6,1074.9 1857.7,1074.8 1858.8,1074.7 1859.9,1074.5 1860.9,1074.3 1862.0,1073.8 1863.1,1073.1 1864.2,1071.8 1865.2,1070.7 1866.3,1071.2 1867.4,1072.4 1868.5,1073.1 1869.5,1073.3 1870.6,1073.0 1871.7,1072.6 1872.7,1072.9 1873.8,1073.6 1874.9,1074.2 1876.0,1074.5 1877.0,1074.7 1878.1,1074.8 1879.2,1074.9 1880.3,1075.0 1881.3,1075.0 1882.4,1075.0 1883.5,1075.1 1884.6,1075.1 1885.6,1075.1 1886.7,1075.1 1887.8,1075.1 1888.9,1075.1 1889.9,1075.1 1891.0,1075.1 1892.1,1075.1 1893.1,1075.1 1894.2,1075.2 1895.3,1075.2 1896.4,1075.2 1897.4,1075.2 1898.5,1075.2 1899.6,1075.2 1900.7,1075.2 1901.7,1075.2 1902.8,1075.2 1903.9,1075.2 1905.0,1075.2 1906.0,1075.2 1907.1,1075.2 1908.2,1075.2 1909.2,1075.2 1910.3,1075.2 1911.4,1075.2 1912.5,1075.2 1913.5,1075.2 1914.6,1075.2 1915.7,1075.2 1916.8,1075.2 1917.8,1075.2 1918.9,1075.2 1920.0,1075.2 1921.1,1075.2 1922.1,1075.2 1923.2,1075.2 1924.3,1075.2 1925.4,1075.2 1926.4,1075.2 1927.5,1075.2 1928.6,1075.2 1929.6,1075.2 1930.7,1075.2 1931.8,1075.2 1932.9,1075.2 1933.9,1075.2 1935.0,1075.2 1936.1,1075.2 1937.2,1075.2 1938.2,1075.2 1939.3,1075.2 1940.4,1075.2 1941.5,1075.2 1942.5,1075.2 1943.6,1075.2 1944.7,1075.2 1945.7,1075.2 1946.8,1075.2 1947.9,1075.2 1949.0,1075.2 1950.0,1075.2 1951.1,1075.2 1952.2,1075.2 1953.3,1075.2 1954.3,1075.2 1955.4,1075.2 1956.5,1075.2 1957.6,1075.2 1958.6,1075.2 1959.7,1075.1 1960.8,1075.1 1961.9,1075.1 1962.9,1075.1 1964.0,1075.1 1965.1,1075.1 1966.1,1075.1 1967.2,1075.1 1968.3,1075.1 1969.4,1075.1 1970.4,1075.1 1971.5,1075.1 1972.6,1075.1 1973.7,1075.1 1974.7,1075.1 1975.8,1075.0 1976.9,1075.0 1978.0,1075.0 1979.0,1075.0 1980.1,1075.0 1981.2,1074.9 1982.2,1074.9 1983.3,1074.8 1984.4,1074.8 1985.5,1074.7 1986.5,1074.5 1987.6,1074.4 1988.7,1074.1 1989.8,1073.8 1990.8,1073.2 1991.9,1072.3 1993.0,1070.7 1994.1,1068.0 1995.1,1065.2 1996.2,1065.8 1997.3,1068.6 1998.3,1070.5 1999.4,1071.3 2000.5,1071.1 2001.6,1070.1 2002.6,1069.4 2003.7,1070.6 2004.8,1072.2 2005.9,1073.2 2006.9,1073.8 2008.0,1074.2 2009.1,1074.4 2010.2,1074.6 2011.2,1074.7 2012.3,1074.8 2013.4,1074.9 2014.5,1074.9 2015.5,1074.9 2016.6,1075.0 2017.7,1075.0 2018.7,1075.0 2019.8,1075.0 2020.9,1074.8 2022.0,1074.7 2023.0,1074.6 2024.1,1074.5 2025.2,1074.4 2026.3,1074.3 2027.3,1074.2 2028.4,1074.1 2029.5,1074.0 2030.6,1073.9 2031.6,1073.9 2032.7,1073.8 2033.8,1073.7 2034.8,1073.6 2035.9,1073.5 2037.0,1073.4 2038.1,1073.3 2039.1,1073.2 2040.2,1073.1 2041.3,1073.0 2042.4,1072.9 2043.4,1072.8 2044.5,1072.7 2045.6,1072.4 2046.7,1072.0 2047.7,1071.7 2048.8,1071.4 2049.9,1071.1 2051.0,1070.8 2052.0,1070.5 2053.1,1070.2 2054.2,1069.9 2055.2,1069.6 2056.3,1068.9 2057.4,1067.9 2058.5,1066.9 2059.5,1065.8 2060.6,1064.8 2061.7,1063.8 2062.8,1061.5 2063.8,1058.8 2064.9,1056.0 2066.0,1051.1 2067.1,1045.7 2068.1,1040.4 2069.2,1035.0 2070.3,1029.6 2071.3,1025.0 2072.4,1020.7 2073.5,1016.6 2074.6,1028.0 2075.6,1034.1 2076.7,1036.0" fill="none" stroke="#f00" stroke-width="6.7" stroke-linejoin="round" stroke-linecap="round"/>
<path id="bragg" d="M477.1,1181.1V1211.3M620.6,1181.1V1211.3M664.3,1181.1V1211.3M825.1,1181.1V1211.3M934.6,1181.1V1211.3M1102.7,1181.1V1211.3M1197.2,1181.1V1211.3M1346.9,1181.1V1211.3M1433.1,1181.1V1211.3M1461.4,1181.1V1211.3M1572.2,1181.1V1211.3M1653.6,1181.1V1211.3M1680.4,1181.1V1211.3M1786.5,1181.1V1211.3M1865.1,1181.1V1211.3M1995.0,1181.1V1211.3M2072.6,1181.1V1211.3M479.2,1181.1V1211.3M623.0,1181.1V1211.3M666.8,1181.1V1211.3M828.1,1181.1V1211.3M937.9,1181.1V1211.3M1106.5,1181.1V1211.3M1201.3,1181.1V1211.3M1351.5,1181.1V1211.3M1438.0,1181.1V1211.3M1466.4,1181.1V1211.3M1577.6,1181.1V1211.3M1659.3,1181.1V1211.3M1686.2,1181.1V1211.3M1792.7,1181.1V1211.3M1871.7,1181.1V1211.3M2002.2,1181.1V1211.3M2080.1,1181.1V1211.3" fill="none" stroke="#008000" stroke-width="2.1" stroke-linecap="round"/>
<rect x="140" y="36.1" width="2013.1" height="1395.9" fill="none" stroke="#000" stroke-width="5.3"/>
<path d="M207.4,1404.5V1432M341.6,1418.7V1432M475.8,1404.5V1432M610.0,1418.7V1432M744.2,1404.5V1432M878.4,1418.7V1432M1012.6,1404.5V1432M1146.8,1418.7V1432M1281.0,1404.5V1432M1415.2,1418.7V1432M1549.4,1404.5V1432M1683.5,1418.7V1432M1817.7,1404.5V1432M1951.9,1418.7V1432M2086.1,1404.5V1432" fill="none" stroke="#000" stroke-width="5"/>
<g id="ticklabels">
<text transform="translate(207.1,1508.3) scale(0.985,1.03)" font-size="60" text-anchor="middle">20</text>
<text transform="translate(475.5,1508.3) scale(0.985,1.03)" font-size="60" text-anchor="middle">30</text>
<text transform="translate(743.9,1508.3) scale(0.985,1.03)" font-size="60" text-anchor="middle">40</text>
<text transform="translate(1012.3,1508.3) scale(0.985,1.03)" font-size="60" text-anchor="middle">50</text>
<text transform="translate(1280.7,1508.3) scale(0.985,1.03)" font-size="60" text-anchor="middle">60</text>
<text transform="translate(1549.1,1508.3) scale(0.985,1.03)" font-size="60" text-anchor="middle">70</text>
<text transform="translate(1817.4,1508.3) scale(0.985,1.03)" font-size="60" text-anchor="middle">80</text>
<text transform="translate(2085.8,1508.3) scale(0.985,1.03)" font-size="60" text-anchor="middle">90</text>
</g>
<g id="labels">
<text transform="translate(1107.7,1628) scale(1.09,1)" font-size="73" class="serif" letter-spacing="-2">2θ</text>
<text transform="translate(80.9,734.5) rotate(-90) scale(1,1.045)" font-size="72.2" text-anchor="middle">Intensity (a.u.)</text>
<text transform="translate(217.4,286) scale(1,1)" font-size="155" class="serif"><tspan textLength="46.7" stroke="#000" stroke-width="1.2" stroke-linejoin="round" lengthAdjust="spacingAndGlyphs">(</tspan><tspan font-weight="bold" font-size="161.4" dy="0.4" textLength="91.3" lengthAdjust="spacingAndGlyphs">b</tspan><tspan dx="2.6" dy="-0.4" textLength="45.8" stroke="#000" stroke-width="1.2" stroke-linejoin="round" lengthAdjust="spacingAndGlyphs">)</tspan></text>
<text transform="translate(1336,173.2) scale(1.0,1.035)" font-size="72.1">F<tspan font-size="49.5" dy="18">3</tspan><tspan dy="-18">O</tspan><tspan font-size="49.5" dy="18">4</tspan><tspan dy="-18"> (F d-3m) comercial</tspan></text>
<text transform="translate(1342,271.5) scale(1.0,1.035)" font-size="72.2" xml:space="preserve">a =  8.4047 A</text>
<text transform="translate(1349.5,367.8) scale(1.0,1.035)" font-size="72.2"><tspan class="serif" font-size="69.6" textLength="40" lengthAdjust="spacingAndGlyphs">ρ</tspan>=4.653 g/cm3</text>
<text transform="translate(1635.5,492.1) scale(1.0,1.035)" font-size="65.2">observed</text>
<text transform="translate(1654,573.4) scale(1.0,1.035)" font-size="65.2">calculated</text>
<text transform="translate(1655,654.3) scale(1.0,1.035)" font-size="65.2">Bragg_position</text>
</g>
<g id="legend">
<circle cx="1563.5" cy="469.3" r="11.9" fill="#fff" stroke="#000" stroke-width="1.5"/>
<path d="M1490.3,550.6H1636.7" stroke="#f00" stroke-width="6.7" stroke-linecap="round" fill="none"/>
<path d="M1563.5,616.2V647" stroke="#008000" stroke-width="2.2" stroke-linecap="round" fill="none"/>
</g>
</svg>
</body></html>
